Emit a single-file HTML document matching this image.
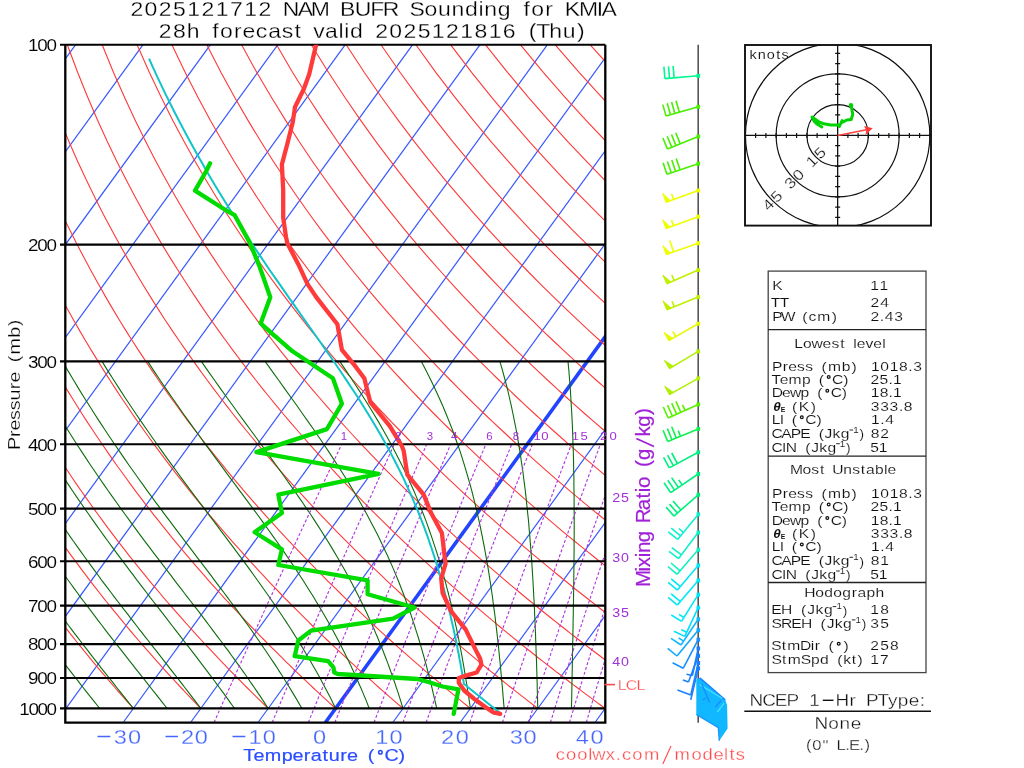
<!DOCTYPE html>
<html><head><meta charset="utf-8"><style>html,body{margin:0;padding:0;background:#fff;overflow:hidden;}svg{display:block;will-change:transform;}text{font-family:"Liberation Sans",sans-serif;}</style></head>
<body><svg width="1024" height="768" viewBox="0 0 1024 768" font-family="Liberation Sans, sans-serif"><defs><clipPath id="pc"><rect x="65.3" y="44.8" width="540.0" height="677.8000000000001"/></clipPath></defs>
<g clip-path="url(#pc)"><line x1="-685.6" y1="722.5" x2="-194.1" y2="44.8" stroke="#3355ff" stroke-width="1.2"/><line x1="-618.2" y1="722.5" x2="-126.7" y2="44.8" stroke="#3355ff" stroke-width="1.2"/><line x1="-550.8" y1="722.5" x2="-59.3" y2="44.8" stroke="#3355ff" stroke-width="1.2"/><line x1="-483.4" y1="722.5" x2="8.1" y2="44.8" stroke="#3355ff" stroke-width="1.2"/><line x1="-416.0" y1="722.5" x2="75.5" y2="44.8" stroke="#3355ff" stroke-width="1.2"/><line x1="-348.6" y1="722.5" x2="142.9" y2="44.8" stroke="#3355ff" stroke-width="1.2"/><line x1="-281.2" y1="722.5" x2="210.3" y2="44.8" stroke="#3355ff" stroke-width="1.2"/><line x1="-213.8" y1="722.5" x2="277.7" y2="44.8" stroke="#3355ff" stroke-width="1.2"/><line x1="-146.4" y1="722.5" x2="345.1" y2="44.8" stroke="#3355ff" stroke-width="1.2"/><line x1="-79.0" y1="722.5" x2="412.5" y2="44.8" stroke="#3355ff" stroke-width="1.2"/><line x1="-11.6" y1="722.5" x2="479.9" y2="44.8" stroke="#3355ff" stroke-width="1.2"/><line x1="55.8" y1="722.5" x2="547.3" y2="44.8" stroke="#3355ff" stroke-width="1.2"/><line x1="123.2" y1="722.5" x2="614.7" y2="44.8" stroke="#3355ff" stroke-width="1.2"/><line x1="190.6" y1="722.5" x2="682.1" y2="44.8" stroke="#3355ff" stroke-width="1.2"/><line x1="258.0" y1="722.5" x2="749.5" y2="44.8" stroke="#3355ff" stroke-width="1.2"/><line x1="325.4" y1="722.5" x2="816.9" y2="44.8" stroke="#2244ff" stroke-width="3.6"/><line x1="392.8" y1="722.5" x2="884.3" y2="44.8" stroke="#3355ff" stroke-width="1.2"/><line x1="460.2" y1="722.5" x2="951.7" y2="44.8" stroke="#3355ff" stroke-width="1.2"/><line x1="527.6" y1="722.5" x2="1019.1" y2="44.8" stroke="#3355ff" stroke-width="1.2"/><line x1="595.0" y1="722.5" x2="1086.5" y2="44.8" stroke="#3355ff" stroke-width="1.2"/><line x1="662.4" y1="722.5" x2="1153.9" y2="44.8" stroke="#3355ff" stroke-width="1.2"/><polyline points="-68.8,708.4 -70.8,705.5 -72.9,702.6 -74.9,699.6 -77.0,696.6 -79.0,693.6 -81.1,690.6 -83.2,687.5 -85.3,684.4 -87.4,681.2 -89.5,678.0 -91.6,674.8 -93.7,671.6 -95.9,668.3 -98.0,664.9 -100.2,661.6 -102.3,658.2 -104.5,654.7 -106.7,651.2 -108.9,647.7 -111.1,644.1 -113.3,640.5 -115.5,636.8 -117.8,633.1 -120.0,629.3 -122.3,625.5 -124.6,621.6 -126.8,617.7 -129.1,613.7 -131.4,609.7 -133.8,605.6 -136.1,601.5 -138.4,597.3 -140.8,593.0 -143.1,588.7 -145.5,584.3 -147.9,579.8 -150.3,575.2 -152.7,570.6 -155.1,565.9 -157.6,561.2 -160.0,556.3 -162.5,551.4 -164.9,546.4 -167.4,541.3 -169.9,536.1 -172.4,530.8 -174.9,525.4 -177.5,519.9 -180.0,514.3 -182.6,508.6 -185.2,502.8 -187.7,496.9 -190.3,490.8 -193.0,484.6 -195.6,478.3 -198.2,471.8 -200.9,465.2 -203.5,458.4 -206.2,451.4 -208.9,444.3 -211.6,437.0 -214.3,429.5 -217.0,421.9 -219.7,414.0 -222.4,405.8 -225.2,397.5 -227.9,388.9 -230.6,380.0 -233.4,370.9 -236.1,361.4 -238.9,351.6 -241.6,341.5 -244.4,331.1 -247.1,320.2 -249.8,308.9 -252.5,297.1 -255.2,284.8 -257.8,272.0 -260.4,258.6 -262.9,244.6 -265.4,229.8 -267.9,214.2 -270.2,197.7 -272.4,180.3 -274.5,161.7 -276.4,141.8 -278.1,120.4 -279.5,97.3 -280.6,72.3 -281.2,44.8" fill="none" stroke="#ff3838" stroke-width="1.1"/><polyline points="-1.4,708.4 -3.6,705.5 -5.9,702.6 -8.1,699.6 -10.4,696.6 -12.6,693.6 -14.9,690.6 -17.2,687.5 -19.5,684.4 -21.8,681.2 -24.1,678.0 -26.4,674.8 -28.8,671.6 -31.1,668.3 -33.5,664.9 -35.8,661.6 -38.2,658.2 -40.6,654.7 -43.0,651.2 -45.4,647.7 -47.9,644.1 -50.3,640.5 -52.8,636.8 -55.2,633.1 -57.7,629.3 -60.2,625.5 -62.7,621.6 -65.3,617.7 -67.8,613.7 -70.3,609.7 -72.9,605.6 -75.5,601.5 -78.1,597.3 -80.7,593.0 -83.3,588.7 -85.9,584.3 -88.6,579.8 -91.2,575.2 -93.9,570.6 -96.6,565.9 -99.3,561.2 -102.1,556.3 -104.8,551.4 -107.6,546.4 -110.3,541.3 -113.1,536.1 -115.9,530.8 -118.7,525.4 -121.6,519.9 -124.4,514.3 -127.3,508.6 -130.2,502.8 -133.1,496.9 -136.0,490.8 -139.0,484.6 -142.0,478.3 -144.9,471.8 -147.9,465.2 -150.9,458.4 -154.0,451.4 -157.0,444.3 -160.1,437.0 -163.2,429.5 -166.3,421.9 -169.4,414.0 -172.5,405.8 -175.7,397.5 -178.8,388.9 -182.0,380.0 -185.2,370.9 -188.4,361.4 -191.6,351.6 -194.8,341.5 -198.0,331.1 -201.3,320.2 -204.5,308.9 -207.7,297.1 -210.9,284.8 -214.1,272.0 -217.3,258.6 -220.4,244.6 -223.5,229.8 -226.6,214.2 -229.6,197.7 -232.5,180.3 -235.3,161.7 -238.0,141.8 -240.5,120.4 -242.8,97.3 -244.7,72.3 -246.3,44.8" fill="none" stroke="#ff3838" stroke-width="1.1"/><polyline points="66.0,708.4 63.6,705.5 61.2,702.6 58.7,699.6 56.3,696.6 53.8,693.6 51.3,690.6 48.8,687.5 46.3,684.4 43.8,681.2 41.3,678.0 38.8,674.8 36.2,671.6 33.7,668.3 31.1,664.9 28.5,661.6 25.9,658.2 23.3,654.7 20.7,651.2 18.0,647.7 15.4,644.1 12.7,640.5 10.0,636.8 7.3,633.1 4.6,629.3 1.8,625.5 -0.9,621.6 -3.7,617.7 -6.4,613.7 -9.2,609.7 -12.0,605.6 -14.9,601.5 -17.7,597.3 -20.6,593.0 -23.5,588.7 -26.4,584.3 -29.3,579.8 -32.2,575.2 -35.1,570.6 -38.1,565.9 -41.1,561.2 -44.1,556.3 -47.1,551.4 -50.2,546.4 -53.2,541.3 -56.3,536.1 -59.4,530.8 -62.6,525.4 -65.7,519.9 -68.9,514.3 -72.1,508.6 -75.3,502.8 -78.5,496.9 -81.8,490.8 -85.0,484.6 -88.3,478.3 -91.7,471.8 -95.0,465.2 -98.4,458.4 -101.8,451.4 -105.2,444.3 -108.6,437.0 -112.1,429.5 -115.6,421.9 -119.1,414.0 -122.6,405.8 -126.2,397.5 -129.8,388.9 -133.4,380.0 -137.0,370.9 -140.6,361.4 -144.3,351.6 -148.0,341.5 -151.7,331.1 -155.4,320.2 -159.2,308.9 -162.9,297.1 -166.7,284.8 -170.4,272.0 -174.2,258.6 -177.9,244.6 -181.7,229.8 -185.4,214.2 -189.0,197.7 -192.6,180.3 -196.2,161.7 -199.6,141.8 -202.9,120.4 -206.0,97.3 -208.9,72.3 -211.5,44.8" fill="none" stroke="#ff3838" stroke-width="1.1"/><polyline points="133.4,708.4 130.8,705.5 128.2,702.6 125.5,699.6 122.9,696.6 120.2,693.6 117.5,690.6 114.9,687.5 112.2,684.4 109.4,681.2 106.7,678.0 104.0,674.8 101.2,671.6 98.4,668.3 95.6,664.9 92.8,661.6 90.0,658.2 87.2,654.7 84.3,651.2 81.5,647.7 78.6,644.1 75.7,640.5 72.8,636.8 69.8,633.1 66.9,629.3 63.9,625.5 60.9,621.6 57.9,617.7 54.9,613.7 51.9,609.7 48.8,605.6 45.7,601.5 42.6,597.3 39.5,593.0 36.4,588.7 33.2,584.3 30.0,579.8 26.8,575.2 23.6,570.6 20.4,565.9 17.1,561.2 13.8,556.3 10.5,551.4 7.2,546.4 3.8,541.3 0.5,536.1 -2.9,530.8 -6.4,525.4 -9.8,519.9 -13.3,514.3 -16.8,508.6 -20.3,502.8 -23.9,496.9 -27.5,490.8 -31.1,484.6 -34.7,478.3 -38.4,471.8 -42.1,465.2 -45.8,458.4 -49.6,451.4 -53.3,444.3 -57.2,437.0 -61.0,429.5 -64.9,421.9 -68.8,414.0 -72.7,405.8 -76.7,397.5 -80.7,388.9 -84.7,380.0 -88.8,370.9 -92.9,361.4 -97.0,351.6 -101.2,341.5 -105.4,331.1 -109.6,320.2 -113.9,308.9 -118.1,297.1 -122.4,284.8 -126.7,272.0 -131.1,258.6 -135.4,244.6 -139.8,229.8 -144.1,214.2 -148.5,197.7 -152.8,180.3 -157.0,161.7 -161.2,141.8 -165.3,120.4 -169.3,97.3 -173.1,72.3 -176.6,44.8" fill="none" stroke="#ff3838" stroke-width="1.1"/><polyline points="200.8,708.4 198.0,705.5 195.2,702.6 192.3,699.6 189.5,696.6 186.6,693.6 183.8,690.6 180.9,687.5 178.0,684.4 175.0,681.2 172.1,678.0 169.1,674.8 166.2,671.6 163.2,668.3 160.2,664.9 157.2,661.6 154.1,658.2 151.1,654.7 148.0,651.2 144.9,647.7 141.8,644.1 138.7,640.5 135.5,636.8 132.4,633.1 129.2,629.3 126.0,625.5 122.8,621.6 119.5,617.7 116.3,613.7 113.0,609.7 109.7,605.6 106.3,601.5 103.0,597.3 99.6,593.0 96.2,588.7 92.8,584.3 89.4,579.8 85.9,575.2 82.4,570.6 78.9,565.9 75.4,561.2 71.8,556.3 68.2,551.4 64.6,546.4 60.9,541.3 57.3,536.1 53.6,530.8 49.8,525.4 46.1,519.9 42.3,514.3 38.5,508.6 34.6,502.8 30.7,496.9 26.8,490.8 22.9,484.6 18.9,478.3 14.9,471.8 10.9,465.2 6.8,458.4 2.7,451.4 -1.5,444.3 -5.7,437.0 -9.9,429.5 -14.2,421.9 -18.5,414.0 -22.8,405.8 -27.2,397.5 -31.6,388.9 -36.1,380.0 -40.6,370.9 -45.2,361.4 -49.8,351.6 -54.4,341.5 -59.1,331.1 -63.8,320.2 -68.5,308.9 -73.3,297.1 -78.2,284.8 -83.1,272.0 -88.0,258.6 -92.9,244.6 -97.9,229.8 -102.9,214.2 -107.9,197.7 -112.9,180.3 -117.9,161.7 -122.9,141.8 -127.8,120.4 -132.6,97.3 -137.3,72.3 -141.8,44.8" fill="none" stroke="#ff3838" stroke-width="1.1"/><polyline points="268.2,708.4 265.2,705.5 262.2,702.6 259.2,699.6 256.1,696.6 253.1,693.6 250.0,690.6 246.9,687.5 243.8,684.4 240.6,681.2 237.5,678.0 234.3,674.8 231.2,671.6 228.0,668.3 224.7,664.9 221.5,661.6 218.2,658.2 215.0,654.7 211.7,651.2 208.4,647.7 205.0,644.1 201.7,640.5 198.3,636.8 194.9,633.1 191.5,629.3 188.1,625.5 184.6,621.6 181.1,617.7 177.6,613.7 174.1,609.7 170.5,605.6 166.9,601.5 163.3,597.3 159.7,593.0 156.1,588.7 152.4,584.3 148.7,579.8 144.9,575.2 141.2,570.6 137.4,565.9 133.6,561.2 129.7,556.3 125.9,551.4 122.0,546.4 118.0,541.3 114.1,536.1 110.1,530.8 106.0,525.4 102.0,519.9 97.9,514.3 93.7,508.6 89.6,502.8 85.4,496.9 81.1,490.8 76.8,484.6 72.5,478.3 68.2,471.8 63.8,465.2 59.3,458.4 54.9,451.4 50.3,444.3 45.8,437.0 41.2,429.5 36.5,421.9 31.8,414.0 27.1,405.8 22.3,397.5 17.4,388.9 12.5,380.0 7.6,370.9 2.6,361.4 -2.5,351.6 -7.6,341.5 -12.7,331.1 -18.0,320.2 -23.2,308.9 -28.6,297.1 -33.9,284.8 -39.4,272.0 -44.9,258.6 -50.4,244.6 -56.0,229.8 -61.6,214.2 -67.3,197.7 -73.0,180.3 -78.7,161.7 -84.5,141.8 -90.2,120.4 -95.9,97.3 -101.5,72.3 -106.9,44.8" fill="none" stroke="#ff3838" stroke-width="1.1"/><polyline points="335.6,708.4 332.4,705.5 329.2,702.6 326.0,699.6 322.7,696.6 319.5,693.6 316.2,690.6 312.9,687.5 309.6,684.4 306.2,681.2 302.9,678.0 299.5,674.8 296.1,671.6 292.7,668.3 289.3,664.9 285.8,661.6 282.4,658.2 278.9,654.7 275.4,651.2 271.8,647.7 268.3,644.1 264.7,640.5 261.1,636.8 257.5,633.1 253.8,629.3 250.1,625.5 246.4,621.6 242.7,617.7 239.0,613.7 235.2,609.7 231.4,605.6 227.5,601.5 223.7,597.3 219.8,593.0 215.9,588.7 212.0,584.3 208.0,579.8 204.0,575.2 200.0,570.6 195.9,565.9 191.8,561.2 187.7,556.3 183.5,551.4 179.3,546.4 175.1,541.3 170.8,536.1 166.6,530.8 162.2,525.4 157.9,519.9 153.4,514.3 149.0,508.6 144.5,502.8 140.0,496.9 135.4,490.8 130.8,484.6 126.2,478.3 121.5,471.8 116.7,465.2 111.9,458.4 107.1,451.4 102.2,444.3 97.3,437.0 92.3,429.5 87.2,421.9 82.1,414.0 77.0,405.8 71.8,397.5 66.5,388.9 61.2,380.0 55.8,370.9 50.3,361.4 44.8,351.6 39.2,341.5 33.6,331.1 27.9,320.2 22.1,308.9 16.2,297.1 10.3,284.8 4.3,272.0 -1.8,258.6 -7.9,244.6 -14.1,229.8 -20.4,214.2 -26.7,197.7 -33.1,180.3 -39.6,161.7 -46.1,141.8 -52.6,120.4 -59.1,97.3 -65.6,72.3 -72.1,44.8" fill="none" stroke="#ff3838" stroke-width="1.1"/><polyline points="403.0,708.4 399.6,705.5 396.2,702.6 392.8,699.6 389.3,696.6 385.9,693.6 382.4,690.6 378.9,687.5 375.4,684.4 371.9,681.2 368.3,678.0 364.7,674.8 361.1,671.6 357.5,668.3 353.8,664.9 350.2,661.6 346.5,658.2 342.8,654.7 339.0,651.2 335.3,647.7 331.5,644.1 327.7,640.5 323.8,636.8 320.0,633.1 316.1,629.3 312.2,625.5 308.3,621.6 304.3,617.7 300.3,613.7 296.3,609.7 292.2,605.6 288.2,601.5 284.0,597.3 279.9,593.0 275.7,588.7 271.5,584.3 267.3,579.8 263.0,575.2 258.7,570.6 254.4,565.9 250.0,561.2 245.6,556.3 241.2,551.4 236.7,546.4 232.2,541.3 227.6,536.1 223.1,530.8 218.4,525.4 213.7,519.9 209.0,514.3 204.3,508.6 199.5,502.8 194.6,496.9 189.7,490.8 184.8,484.6 179.8,478.3 174.7,471.8 169.6,465.2 164.5,458.4 159.3,451.4 154.0,444.3 148.7,437.0 143.3,429.5 137.9,421.9 132.4,414.0 126.9,405.8 121.2,397.5 115.6,388.9 109.8,380.0 104.0,370.9 98.1,361.4 92.1,351.6 86.0,341.5 79.9,331.1 73.7,320.2 67.4,308.9 61.0,297.1 54.6,284.8 48.0,272.0 41.4,258.6 34.6,244.6 27.8,229.8 20.9,214.2 13.8,197.7 6.7,180.3 -0.4,161.7 -7.7,141.8 -15.0,120.4 -22.4,97.3 -29.8,72.3 -37.2,44.8" fill="none" stroke="#ff3838" stroke-width="1.1"/><polyline points="470.4,708.4 466.8,705.5 463.2,702.6 459.6,699.6 456.0,696.6 452.3,693.6 448.6,690.6 444.9,687.5 441.2,684.4 437.5,681.2 433.7,678.0 429.9,674.8 426.1,671.6 422.3,668.3 418.4,664.9 414.5,661.6 410.6,658.2 406.7,654.7 402.7,651.2 398.7,647.7 394.7,644.1 390.7,640.5 386.6,636.8 382.5,633.1 378.4,629.3 374.3,625.5 370.1,621.6 365.9,617.7 361.6,613.7 357.4,609.7 353.1,605.6 348.8,601.5 344.4,597.3 340.0,593.0 335.6,588.7 331.1,584.3 326.6,579.8 322.1,575.2 317.5,570.6 312.9,565.9 308.3,561.2 303.6,556.3 298.9,551.4 294.1,546.4 289.3,541.3 284.4,536.1 279.5,530.8 274.6,525.4 269.6,519.9 264.6,514.3 259.5,508.6 254.4,502.8 249.2,496.9 244.0,490.8 238.7,484.6 233.4,478.3 228.0,471.8 222.6,465.2 217.1,458.4 211.5,451.4 205.9,444.3 200.2,437.0 194.4,429.5 188.6,421.9 182.7,414.0 176.8,405.8 170.7,397.5 164.6,388.9 158.4,380.0 152.2,370.9 145.8,361.4 139.4,351.6 132.8,341.5 126.2,331.1 119.5,320.2 112.7,308.9 105.8,297.1 98.8,284.8 91.7,272.0 84.5,258.6 77.1,244.6 69.7,229.8 62.1,214.2 54.4,197.7 46.6,180.3 38.7,161.7 30.7,141.8 22.5,120.4 14.3,97.3 6.0,72.3 -2.4,44.8" fill="none" stroke="#ff3838" stroke-width="1.1"/><polyline points="537.8,708.4 534.0,705.5 530.2,702.6 526.4,699.6 522.6,696.6 518.7,693.6 514.8,690.6 510.9,687.5 507.0,684.4 503.1,681.2 499.1,678.0 495.1,674.8 491.1,671.6 487.0,668.3 482.9,664.9 478.8,661.6 474.7,658.2 470.6,654.7 466.4,651.2 462.2,647.7 457.9,644.1 453.7,640.5 449.4,636.8 445.1,633.1 440.7,629.3 436.3,625.5 431.9,621.6 427.5,617.7 423.0,613.7 418.5,609.7 413.9,605.6 409.4,601.5 404.7,597.3 400.1,593.0 395.4,588.7 390.7,584.3 385.9,579.8 381.1,575.2 376.3,570.6 371.4,565.9 366.5,561.2 361.5,556.3 356.5,551.4 351.5,546.4 346.4,541.3 341.2,536.1 336.0,530.8 330.8,525.4 325.5,519.9 320.2,514.3 314.8,508.6 309.3,502.8 303.9,496.9 298.3,490.8 292.7,484.6 287.0,478.3 281.3,471.8 275.5,465.2 269.6,458.4 263.7,451.4 257.7,444.3 251.7,437.0 245.5,429.5 239.3,421.9 233.0,414.0 226.7,405.8 220.2,397.5 213.7,388.9 207.1,380.0 200.4,370.9 193.6,361.4 186.7,351.6 179.7,341.5 172.6,331.1 165.3,320.2 158.0,308.9 150.6,297.1 143.0,284.8 135.4,272.0 127.6,258.6 119.6,244.6 111.6,229.8 103.3,214.2 95.0,197.7 86.5,180.3 77.8,161.7 69.0,141.8 60.1,120.4 51.0,97.3 41.8,72.3 32.5,44.8" fill="none" stroke="#ff3838" stroke-width="1.1"/><polyline points="605.2,708.4 601.2,705.5 597.2,702.6 593.2,699.6 589.2,696.6 585.1,693.6 581.1,690.6 577.0,687.5 572.8,684.4 568.7,681.2 564.5,678.0 560.3,674.8 556.0,671.6 551.8,668.3 547.5,664.9 543.2,661.6 538.8,658.2 534.5,654.7 530.1,651.2 525.6,647.7 521.2,644.1 516.7,640.5 512.2,636.8 507.6,633.1 503.0,629.3 498.4,625.5 493.7,621.6 489.1,617.7 484.3,613.7 479.6,609.7 474.8,605.6 470.0,601.5 465.1,597.3 460.2,593.0 455.2,588.7 450.3,584.3 445.2,579.8 440.2,575.2 435.1,570.6 429.9,565.9 424.7,561.2 419.5,556.3 414.2,551.4 408.8,546.4 403.5,541.3 398.0,536.1 392.5,530.8 387.0,525.4 381.4,519.9 375.8,514.3 370.1,508.6 364.3,502.8 358.5,496.9 352.6,490.8 346.6,484.6 340.6,478.3 334.6,471.8 328.4,465.2 322.2,458.4 315.9,451.4 309.6,444.3 303.1,437.0 296.6,429.5 290.0,421.9 283.3,414.0 276.6,405.8 269.7,397.5 262.7,388.9 255.7,380.0 248.5,370.9 241.3,361.4 233.9,351.6 226.5,341.5 218.9,331.1 211.2,320.2 203.3,308.9 195.4,297.1 187.3,284.8 179.1,272.0 170.7,258.6 162.1,244.6 153.4,229.8 144.6,214.2 135.6,197.7 126.4,180.3 117.0,161.7 107.4,141.8 97.7,120.4 87.7,97.3 77.6,72.3 67.3,44.8" fill="none" stroke="#ff3838" stroke-width="1.1"/><polyline points="672.6,708.4 668.4,705.5 664.3,702.6 660.0,699.6 655.8,696.6 651.6,693.6 647.3,690.6 643.0,687.5 638.6,684.4 634.3,681.2 629.9,678.0 625.5,674.8 621.0,671.6 616.5,668.3 612.0,664.9 607.5,661.6 603.0,658.2 598.4,654.7 593.7,651.2 589.1,647.7 584.4,644.1 579.7,640.5 574.9,636.8 570.1,633.1 565.3,629.3 560.5,625.5 555.6,621.6 550.7,617.7 545.7,613.7 540.7,609.7 535.6,605.6 530.6,601.5 525.4,597.3 520.3,593.0 515.1,588.7 509.8,584.3 504.6,579.8 499.2,575.2 493.8,570.6 488.4,565.9 482.9,561.2 477.4,556.3 471.8,551.4 466.2,546.4 460.5,541.3 454.8,536.1 449.0,530.8 443.2,525.4 437.3,519.9 431.3,514.3 425.3,508.6 419.2,502.8 413.1,496.9 406.9,490.8 400.6,484.6 394.3,478.3 387.8,471.8 381.3,465.2 374.8,458.4 368.1,451.4 361.4,444.3 354.6,437.0 347.7,429.5 340.7,421.9 333.6,414.0 326.5,405.8 319.2,397.5 311.8,388.9 304.3,380.0 296.7,370.9 289.0,361.4 281.2,351.6 273.3,341.5 265.2,331.1 257.0,320.2 248.7,308.9 240.2,297.1 231.5,284.8 222.7,272.0 213.8,258.6 204.6,244.6 195.3,229.8 185.8,214.2 176.1,197.7 166.2,180.3 156.1,161.7 145.8,141.8 135.3,120.4 124.5,97.3 113.4,72.3 102.2,44.8" fill="none" stroke="#ff3838" stroke-width="1.1"/><polyline points="740.0,708.4 735.6,705.5 731.3,702.6 726.9,699.6 722.4,696.6 718.0,693.6 713.5,690.6 709.0,687.5 704.4,684.4 699.9,681.2 695.3,678.0 690.6,674.8 686.0,671.6 681.3,668.3 676.6,664.9 671.8,661.6 667.1,658.2 662.3,654.7 657.4,651.2 652.5,647.7 647.6,644.1 642.7,640.5 637.7,636.8 632.7,633.1 627.6,629.3 622.5,625.5 617.4,621.6 612.2,617.7 607.0,613.7 601.8,609.7 596.5,605.6 591.2,601.5 585.8,597.3 580.4,593.0 574.9,588.7 569.4,584.3 563.9,579.8 558.3,575.2 552.6,570.6 546.9,565.9 541.2,561.2 535.4,556.3 529.5,551.4 523.6,546.4 517.6,541.3 511.6,536.1 505.5,530.8 499.4,525.4 493.2,519.9 486.9,514.3 480.6,508.6 474.2,502.8 467.7,496.9 461.2,490.8 454.6,484.6 447.9,478.3 441.1,471.8 434.3,465.2 427.4,458.4 420.3,451.4 413.2,444.3 406.1,437.0 398.8,429.5 391.4,421.9 383.9,414.0 376.4,405.8 368.7,397.5 360.9,388.9 353.0,380.0 344.9,370.9 336.8,361.4 328.5,351.6 320.1,341.5 311.5,331.1 302.8,320.2 294.0,308.9 285.0,297.1 275.8,284.8 266.4,272.0 256.9,258.6 247.2,244.6 237.2,229.8 227.1,214.2 216.7,197.7 206.1,180.3 195.3,161.7 184.2,141.8 172.8,120.4 161.2,97.3 149.3,72.3 137.1,44.8" fill="none" stroke="#ff3838" stroke-width="1.1"/><polyline points="807.4,708.4 802.8,705.5 798.3,702.6 793.7,699.6 789.0,696.6 784.4,693.6 779.7,690.6 775.0,687.5 770.2,684.4 765.5,681.2 760.7,678.0 755.8,674.8 751.0,671.6 746.1,668.3 741.1,664.9 736.2,661.6 731.2,658.2 726.2,654.7 721.1,651.2 716.0,647.7 710.9,644.1 705.7,640.5 700.5,636.8 695.2,633.1 689.9,629.3 684.6,625.5 679.2,621.6 673.8,617.7 668.4,613.7 662.9,609.7 657.4,605.6 651.8,601.5 646.2,597.3 640.5,593.0 634.8,588.7 629.0,584.3 623.2,579.8 617.3,575.2 611.4,570.6 605.4,565.9 599.4,561.2 593.3,556.3 587.2,551.4 581.0,546.4 574.7,541.3 568.4,536.1 562.0,530.8 555.6,525.4 549.1,519.9 542.5,514.3 535.8,508.6 529.1,502.8 522.3,496.9 515.5,490.8 508.5,484.6 501.5,478.3 494.4,471.8 487.2,465.2 479.9,458.4 472.6,451.4 465.1,444.3 457.5,437.0 449.9,429.5 442.1,421.9 434.2,414.0 426.3,405.8 418.2,397.5 409.9,388.9 401.6,380.0 393.1,370.9 384.5,361.4 375.8,351.6 366.9,341.5 357.9,331.1 348.7,320.2 339.3,308.9 329.7,297.1 320.0,284.8 310.1,272.0 300.0,258.6 289.7,244.6 279.1,229.8 268.3,214.2 257.3,197.7 246.0,180.3 234.4,161.7 222.6,141.8 210.4,120.4 197.9,97.3 185.1,72.3 171.9,44.8" fill="none" stroke="#ff3838" stroke-width="1.1"/><polyline points="874.8,708.4 870.1,705.5 865.3,702.6 860.5,699.6 855.7,696.6 850.8,693.6 845.9,690.6 841.0,687.5 836.1,684.4 831.1,681.2 826.1,678.0 821.0,674.8 815.9,671.6 810.8,668.3 805.7,664.9 800.5,661.6 795.3,658.2 790.1,654.7 784.8,651.2 779.4,647.7 774.1,644.1 768.7,640.5 763.2,636.8 757.8,633.1 752.2,629.3 746.7,625.5 741.1,621.6 735.4,617.7 729.7,613.7 724.0,609.7 718.2,605.6 712.4,601.5 706.5,597.3 700.6,593.0 694.6,588.7 688.6,584.3 682.5,579.8 676.4,575.2 670.2,570.6 663.9,565.9 657.6,561.2 651.3,556.3 644.8,551.4 638.4,546.4 631.8,541.3 625.2,536.1 618.5,530.8 611.8,525.4 605.0,519.9 598.1,514.3 591.1,508.6 584.1,502.8 577.0,496.9 569.8,490.8 562.5,484.6 555.1,478.3 547.7,471.8 540.1,465.2 532.5,458.4 524.8,451.4 516.9,444.3 509.0,437.0 501.0,429.5 492.8,421.9 484.5,414.0 476.1,405.8 467.6,397.5 459.0,388.9 450.2,380.0 441.3,370.9 432.3,361.4 423.1,351.6 413.7,341.5 404.2,331.1 394.5,320.2 384.6,308.9 374.5,297.1 364.3,284.8 353.8,272.0 343.1,258.6 332.2,244.6 321.0,229.8 309.6,214.2 297.9,197.7 285.9,180.3 273.6,161.7 261.0,141.8 248.0,120.4 234.6,97.3 220.9,72.3 206.8,44.8" fill="none" stroke="#ff3838" stroke-width="1.1"/><polyline points="942.2,708.4 937.3,705.5 932.3,702.6 927.3,699.6 922.3,696.6 917.2,693.6 912.1,690.6 907.0,687.5 901.9,684.4 896.7,681.2 891.5,678.0 886.2,674.8 880.9,671.6 875.6,668.3 870.2,664.9 864.9,661.6 859.4,658.2 854.0,654.7 848.4,651.2 842.9,647.7 837.3,644.1 831.7,640.5 826.0,636.8 820.3,633.1 814.5,629.3 808.7,625.5 802.9,621.6 797.0,617.7 791.1,613.7 785.1,609.7 779.1,605.6 773.0,601.5 766.9,597.3 760.7,593.0 754.4,588.7 748.1,584.3 741.8,579.8 735.4,575.2 728.9,570.6 722.4,565.9 715.8,561.2 709.2,556.3 702.5,551.4 695.7,546.4 688.9,541.3 682.0,536.1 675.0,530.8 668.0,525.4 660.9,519.9 653.7,514.3 646.4,508.6 639.0,502.8 631.6,496.9 624.1,490.8 616.4,484.6 608.7,478.3 601.0,471.8 593.1,465.2 585.1,458.4 577.0,451.4 568.8,444.3 560.5,437.0 552.0,429.5 543.5,421.9 534.8,414.0 526.0,405.8 517.1,397.5 508.1,388.9 498.9,380.0 489.5,370.9 480.0,361.4 470.3,351.6 460.5,341.5 450.5,331.1 440.3,320.2 429.9,308.9 419.3,297.1 408.5,284.8 397.5,272.0 386.2,258.6 374.7,244.6 362.9,229.8 350.8,214.2 338.4,197.7 325.8,180.3 312.7,161.7 299.3,141.8 285.6,120.4 271.4,97.3 256.7,72.3 241.6,44.8" fill="none" stroke="#ff3838" stroke-width="1.1"/><polyline points="1009.6,708.4 1004.5,705.5 999.3,702.6 994.1,699.6 988.9,696.6 983.6,693.6 978.4,690.6 973.0,687.5 967.7,684.4 962.3,681.2 956.9,678.0 951.4,674.8 945.9,671.6 940.4,668.3 934.8,664.9 929.2,661.6 923.5,658.2 917.8,654.7 912.1,651.2 906.3,647.7 900.5,644.1 894.7,640.5 888.8,636.8 882.8,633.1 876.9,629.3 870.8,625.5 864.7,621.6 858.6,617.7 852.4,613.7 846.2,609.7 839.9,605.6 833.6,601.5 827.2,597.3 820.8,593.0 814.3,588.7 807.7,584.3 801.1,579.8 794.4,575.2 787.7,570.6 780.9,565.9 774.1,561.2 767.2,556.3 760.2,551.4 753.1,546.4 746.0,541.3 738.8,536.1 731.5,530.8 724.2,525.4 716.7,519.9 709.2,514.3 701.6,508.6 694.0,502.8 686.2,496.9 678.4,490.8 670.4,484.6 662.4,478.3 654.2,471.8 646.0,465.2 637.6,458.4 629.2,451.4 620.6,444.3 611.9,437.0 603.1,429.5 594.2,421.9 585.1,414.0 575.9,405.8 566.6,397.5 557.1,388.9 547.5,380.0 537.7,370.9 527.8,361.4 517.6,351.6 507.3,341.5 496.8,331.1 486.1,320.2 475.2,308.9 464.1,297.1 452.8,284.8 441.2,272.0 429.3,258.6 417.2,244.6 404.8,229.8 392.1,214.2 379.0,197.7 365.6,180.3 351.9,161.7 337.7,141.8 323.1,120.4 308.1,97.3 292.5,72.3 276.5,44.8" fill="none" stroke="#ff3838" stroke-width="1.1"/><polyline points="1077.0,708.4 1071.7,705.5 1066.3,702.6 1060.9,699.6 1055.5,696.6 1050.1,693.6 1044.6,690.6 1039.0,687.5 1033.5,684.4 1027.9,681.2 1022.3,678.0 1016.6,674.8 1010.9,671.6 1005.1,668.3 999.3,664.9 993.5,661.6 987.7,658.2 981.7,654.7 975.8,651.2 969.8,647.7 963.8,644.1 957.7,640.5 951.6,636.8 945.4,633.1 939.2,629.3 932.9,625.5 926.6,621.6 920.2,617.7 913.8,613.7 907.3,609.7 900.8,605.6 894.2,601.5 887.6,597.3 880.9,593.0 874.1,588.7 867.3,584.3 860.4,579.8 853.5,575.2 846.5,570.6 839.4,565.9 832.3,561.2 825.1,556.3 817.8,551.4 810.5,546.4 803.1,541.3 795.6,536.1 788.0,530.8 780.4,525.4 772.6,519.9 764.8,514.3 756.9,508.6 748.9,502.8 740.8,496.9 732.6,490.8 724.4,484.6 716.0,478.3 707.5,471.8 698.9,465.2 690.2,458.4 681.4,451.4 672.5,444.3 663.4,437.0 654.2,429.5 644.9,421.9 635.4,414.0 625.8,405.8 616.1,397.5 606.2,388.9 596.1,380.0 585.9,370.9 575.5,361.4 564.9,351.6 554.1,341.5 543.1,331.1 532.0,320.2 520.5,308.9 508.9,297.1 497.0,284.8 484.8,272.0 472.4,258.6 459.7,244.6 446.7,229.8 433.3,214.2 419.6,197.7 405.5,180.3 391.0,161.7 376.1,141.8 360.7,120.4 344.8,97.3 328.4,72.3 311.3,44.8" fill="none" stroke="#ff3838" stroke-width="1.1"/><polyline points="1144.4,708.4 1138.9,705.5 1133.3,702.6 1127.7,699.6 1122.1,696.6 1116.5,693.6 1110.8,690.6 1105.1,687.5 1099.3,684.4 1093.5,681.2 1087.7,678.0 1081.8,674.8 1075.9,671.6 1069.9,668.3 1063.9,664.9 1057.9,661.6 1051.8,658.2 1045.6,654.7 1039.5,651.2 1033.3,647.7 1027.0,644.1 1020.7,640.5 1014.3,636.8 1007.9,633.1 1001.5,629.3 995.0,625.5 988.4,621.6 981.8,617.7 975.1,613.7 968.4,609.7 961.6,605.6 954.8,601.5 947.9,597.3 941.0,593.0 934.0,588.7 926.9,584.3 919.7,579.8 912.5,575.2 905.3,570.6 897.9,565.9 890.5,561.2 883.0,556.3 875.5,551.4 867.9,546.4 860.2,541.3 852.4,536.1 844.5,530.8 836.6,525.4 828.5,519.9 820.4,514.3 812.2,508.6 803.9,502.8 795.5,496.9 786.9,490.8 778.3,484.6 769.6,478.3 760.8,471.8 751.8,465.2 742.8,458.4 733.6,451.4 724.3,444.3 714.9,437.0 705.3,429.5 695.6,421.9 685.7,414.0 675.7,405.8 665.6,397.5 655.3,388.9 644.8,380.0 634.1,370.9 623.2,361.4 612.2,351.6 600.9,341.5 589.5,331.1 577.8,320.2 565.9,308.9 553.7,297.1 541.2,284.8 528.5,272.0 515.5,258.6 502.2,244.6 488.6,229.8 474.6,214.2 460.2,197.7 445.4,180.3 430.2,161.7 414.5,141.8 398.3,120.4 381.5,97.3 364.2,72.3 346.2,44.8" fill="none" stroke="#ff3838" stroke-width="1.1"/><polyline points="1211.8,708.4 1206.1,705.5 1200.3,702.6 1194.6,699.6 1188.7,696.6 1182.9,693.6 1177.0,690.6 1171.1,687.5 1165.1,684.4 1159.1,681.2 1153.1,678.0 1147.0,674.8 1140.8,671.6 1134.7,668.3 1128.4,664.9 1122.2,661.6 1115.9,658.2 1109.5,654.7 1103.1,651.2 1096.7,647.7 1090.2,644.1 1083.7,640.5 1077.1,636.8 1070.5,633.1 1063.8,629.3 1057.0,625.5 1050.2,621.6 1043.4,617.7 1036.5,613.7 1029.5,609.7 1022.5,605.6 1015.4,601.5 1008.3,597.3 1001.1,593.0 993.8,588.7 986.5,584.3 979.1,579.8 971.6,575.2 964.0,570.6 956.4,565.9 948.8,561.2 941.0,556.3 933.2,551.4 925.2,546.4 917.2,541.3 909.2,536.1 901.0,530.8 892.7,525.4 884.4,519.9 876.0,514.3 867.4,508.6 858.8,502.8 850.1,496.9 841.2,490.8 832.3,484.6 823.2,478.3 814.1,471.8 804.8,465.2 795.4,458.4 785.8,451.4 776.1,444.3 766.3,437.0 756.4,429.5 746.3,421.9 736.0,414.0 725.6,405.8 715.1,397.5 704.3,388.9 693.4,380.0 682.3,370.9 671.0,361.4 659.5,351.6 647.7,341.5 635.8,331.1 623.6,320.2 611.2,308.9 598.5,297.1 585.5,284.8 572.2,272.0 558.6,258.6 544.7,244.6 530.4,229.8 515.8,214.2 500.7,197.7 485.3,180.3 469.3,161.7 452.9,141.8 435.9,120.4 418.3,97.3 400.0,72.3 381.0,44.8" fill="none" stroke="#ff3838" stroke-width="1.1"/><polyline points="1279.2,708.4 1273.3,705.5 1267.4,702.6 1261.4,699.6 1255.4,696.6 1249.3,693.6 1243.2,690.6 1237.1,687.5 1230.9,684.4 1224.7,681.2 1218.4,678.0 1212.2,674.8 1205.8,671.6 1199.4,668.3 1193.0,664.9 1186.5,661.6 1180.0,658.2 1173.4,654.7 1166.8,651.2 1160.2,647.7 1153.4,644.1 1146.7,640.5 1139.9,636.8 1133.0,633.1 1126.1,629.3 1119.1,625.5 1112.1,621.6 1105.0,617.7 1097.8,613.7 1090.6,609.7 1083.3,605.6 1076.0,601.5 1068.6,597.3 1061.2,593.0 1053.6,588.7 1046.0,584.3 1038.4,579.8 1030.6,575.2 1022.8,570.6 1014.9,565.9 1007.0,561.2 998.9,556.3 990.8,551.4 982.6,546.4 974.3,541.3 966.0,536.1 957.5,530.8 948.9,525.4 940.3,519.9 931.5,514.3 922.7,508.6 913.8,502.8 904.7,496.9 895.5,490.8 886.3,484.6 876.9,478.3 867.3,471.8 857.7,465.2 847.9,458.4 838.0,451.4 828.0,444.3 817.8,437.0 807.5,429.5 797.0,421.9 786.3,414.0 775.5,405.8 764.6,397.5 753.4,388.9 742.0,380.0 730.5,370.9 718.7,361.4 706.8,351.6 694.6,341.5 682.1,331.1 669.4,320.2 656.5,308.9 643.3,297.1 629.7,284.8 615.9,272.0 601.7,258.6 587.2,244.6 572.3,229.8 557.0,214.2 541.3,197.7 525.1,180.3 508.5,161.7 491.2,141.8 473.4,120.4 455.0,97.3 435.8,72.3 415.9,44.8" fill="none" stroke="#ff3838" stroke-width="1.1"/><polyline points="1346.6,708.4 1340.5,705.5 1334.4,702.6 1328.2,699.6 1322.0,696.6 1315.7,693.6 1309.4,690.6 1303.1,687.5 1296.7,684.4 1290.3,681.2 1283.8,678.0 1277.3,674.8 1270.8,671.6 1264.2,668.3 1257.5,664.9 1250.9,661.6 1244.1,658.2 1237.3,654.7 1230.5,651.2 1223.6,647.7 1216.7,644.1 1209.7,640.5 1202.6,636.8 1195.5,633.1 1188.4,629.3 1181.2,625.5 1173.9,621.6 1166.6,617.7 1159.2,613.7 1151.7,609.7 1144.2,605.6 1136.6,601.5 1129.0,597.3 1121.3,593.0 1113.5,588.7 1105.6,584.3 1097.7,579.8 1089.7,575.2 1081.6,570.6 1073.4,565.9 1065.2,561.2 1056.9,556.3 1048.5,551.4 1040.0,546.4 1031.4,541.3 1022.8,536.1 1014.0,530.8 1005.1,525.4 996.2,519.9 987.1,514.3 978.0,508.6 968.7,502.8 959.3,496.9 949.8,490.8 940.2,484.6 930.5,478.3 920.6,471.8 910.6,465.2 900.5,458.4 890.2,451.4 879.8,444.3 869.3,437.0 858.6,429.5 847.7,421.9 836.6,414.0 825.4,405.8 814.0,397.5 802.4,388.9 790.7,380.0 778.7,370.9 766.5,361.4 754.0,351.6 741.4,341.5 728.4,331.1 715.3,320.2 701.8,308.9 688.0,297.1 674.0,284.8 659.6,272.0 644.8,258.6 629.7,244.6 614.2,229.8 598.3,214.2 581.9,197.7 565.0,180.3 547.6,161.7 529.6,141.8 511.0,120.4 491.7,97.3 471.6,72.3 450.7,44.8" fill="none" stroke="#ff3838" stroke-width="1.1"/><polyline points="1414.0,708.4 1407.7,705.5 1401.4,702.6 1395.0,699.6 1388.6,696.6 1382.1,693.6 1375.6,690.6 1369.1,687.5 1362.5,684.4 1355.9,681.2 1349.2,678.0 1342.5,674.8 1335.8,671.6 1329.0,668.3 1322.1,664.9 1315.2,661.6 1308.2,658.2 1301.2,654.7 1294.2,651.2 1287.1,647.7 1279.9,644.1 1272.7,640.5 1265.4,636.8 1258.1,633.1 1250.7,629.3 1243.2,625.5 1235.7,621.6 1228.2,617.7 1220.5,613.7 1212.8,609.7 1205.1,605.6 1197.2,601.5 1189.3,597.3 1181.3,593.0 1173.3,588.7 1165.2,584.3 1157.0,579.8 1148.7,575.2 1140.4,570.6 1131.9,565.9 1123.4,561.2 1114.8,556.3 1106.2,551.4 1097.4,546.4 1088.5,541.3 1079.5,536.1 1070.5,530.8 1061.3,525.4 1052.1,519.9 1042.7,514.3 1033.2,508.6 1023.6,502.8 1013.9,496.9 1004.1,490.8 994.2,484.6 984.1,478.3 973.9,471.8 963.6,465.2 953.1,458.4 942.5,451.4 931.7,444.3 920.7,437.0 909.7,429.5 898.4,421.9 887.0,414.0 875.3,405.8 863.5,397.5 851.5,388.9 839.3,380.0 826.9,370.9 814.2,361.4 801.3,351.6 788.2,341.5 774.8,331.1 761.1,320.2 747.1,308.9 732.8,297.1 718.2,284.8 703.3,272.0 688.0,258.6 672.2,244.6 656.1,229.8 639.5,214.2 622.5,197.7 604.9,180.3 586.8,161.7 568.0,141.8 548.6,120.4 528.4,97.3 507.5,72.3 485.6,44.8" fill="none" stroke="#ff3838" stroke-width="1.1"/><polyline points="1481.4,708.4 1474.9,705.5 1468.4,702.6 1461.8,699.6 1455.2,696.6 1448.6,693.6 1441.9,690.6 1435.1,687.5 1428.3,684.4 1421.5,681.2 1414.6,678.0 1407.7,674.8 1400.7,671.6 1393.7,668.3 1386.7,664.9 1379.5,661.6 1372.4,658.2 1365.1,654.7 1357.9,651.2 1350.5,647.7 1343.1,644.1 1335.7,640.5 1328.2,636.8 1320.6,633.1 1313.0,629.3 1305.3,625.5 1297.6,621.6 1289.7,617.7 1281.9,613.7 1273.9,609.7 1265.9,605.6 1257.8,601.5 1249.7,597.3 1241.4,593.0 1233.1,588.7 1224.8,584.3 1216.3,579.8 1207.8,575.2 1199.2,570.6 1190.4,565.9 1181.7,561.2 1172.8,556.3 1163.8,551.4 1154.8,546.4 1145.6,541.3 1136.3,536.1 1127.0,530.8 1117.5,525.4 1108.0,519.9 1098.3,514.3 1088.5,508.6 1078.6,502.8 1068.6,496.9 1058.4,490.8 1048.1,484.6 1037.7,478.3 1027.2,471.8 1016.5,465.2 1005.6,458.4 994.7,451.4 983.5,444.3 972.2,437.0 960.7,429.5 949.1,421.9 937.3,414.0 925.2,405.8 913.0,397.5 900.6,388.9 887.9,380.0 875.1,370.9 862.0,361.4 848.6,351.6 835.0,341.5 821.1,331.1 806.9,320.2 792.4,308.9 777.6,297.1 762.5,284.8 747.0,272.0 731.1,258.6 714.7,244.6 698.0,229.8 680.8,214.2 663.0,197.7 644.8,180.3 625.9,161.7 606.4,141.8 586.1,120.4 565.1,97.3 543.3,72.3 520.5,44.8" fill="none" stroke="#ff3838" stroke-width="1.1"/><polyline points="1548.8,708.4 1542.1,705.5 1535.4,702.6 1528.6,699.6 1521.8,696.6 1515.0,693.6 1508.1,690.6 1501.1,687.5 1494.2,684.4 1487.1,681.2 1480.0,678.0 1472.9,674.8 1465.7,671.6 1458.5,668.3 1451.2,664.9 1443.9,661.6 1436.5,658.2 1429.0,654.7 1421.5,651.2 1414.0,647.7 1406.4,644.1 1398.7,640.5 1390.9,636.8 1383.2,633.1 1375.3,629.3 1367.4,625.5 1359.4,621.6 1351.3,617.7 1343.2,613.7 1335.0,609.7 1326.8,605.6 1318.4,601.5 1310.0,597.3 1301.5,593.0 1293.0,588.7 1284.3,584.3 1275.6,579.8 1266.8,575.2 1257.9,570.6 1249.0,565.9 1239.9,561.2 1230.7,556.3 1221.5,551.4 1212.1,546.4 1202.7,541.3 1193.1,536.1 1183.5,530.8 1173.7,525.4 1163.8,519.9 1153.9,514.3 1143.8,508.6 1133.5,502.8 1123.2,496.9 1112.7,490.8 1102.1,484.6 1091.3,478.3 1080.5,471.8 1069.4,465.2 1058.2,458.4 1046.9,451.4 1035.4,444.3 1023.7,437.0 1011.8,429.5 999.8,421.9 987.6,414.0 975.1,405.8 962.5,397.5 949.6,388.9 936.6,380.0 923.3,370.9 909.7,361.4 895.9,351.6 881.8,341.5 867.4,331.1 852.7,320.2 837.7,308.9 822.4,297.1 806.7,284.8 790.6,272.0 774.2,258.6 757.3,244.6 739.9,229.8 722.0,214.2 703.6,197.7 684.6,180.3 665.0,161.7 644.8,141.8 623.7,120.4 601.9,97.3 579.1,72.3 555.3,44.8" fill="none" stroke="#ff3838" stroke-width="1.1"/><polyline points="1616.2,708.4 1609.3,705.5 1602.4,702.6 1595.4,699.6 1588.4,696.6 1581.4,693.6 1574.3,690.6 1567.2,687.5 1560.0,684.4 1552.7,681.2 1545.4,678.0 1538.1,674.8 1530.7,671.6 1523.3,668.3 1515.8,664.9 1508.2,661.6 1500.6,658.2 1492.9,654.7 1485.2,651.2 1477.4,647.7 1469.6,644.1 1461.7,640.5 1453.7,636.8 1445.7,633.1 1437.6,629.3 1429.4,625.5 1421.2,621.6 1412.9,617.7 1404.6,613.7 1396.1,609.7 1387.6,605.6 1379.0,601.5 1370.4,597.3 1361.6,593.0 1352.8,588.7 1343.9,584.3 1334.9,579.8 1325.9,575.2 1316.7,570.6 1307.5,565.9 1298.1,561.2 1288.7,556.3 1279.1,551.4 1269.5,546.4 1259.8,541.3 1249.9,536.1 1240.0,530.8 1229.9,525.4 1219.7,519.9 1209.4,514.3 1199.0,508.6 1188.5,502.8 1177.8,496.9 1167.0,490.8 1156.1,484.6 1145.0,478.3 1133.7,471.8 1122.3,465.2 1110.8,458.4 1099.1,451.4 1087.2,444.3 1075.2,437.0 1062.9,429.5 1050.5,421.9 1037.9,414.0 1025.0,405.8 1012.0,397.5 998.7,388.9 985.2,380.0 971.4,370.9 957.4,361.4 943.2,351.6 928.6,341.5 913.7,331.1 898.6,320.2 883.0,308.9 867.2,297.1 851.0,284.8 834.3,272.0 817.3,258.6 799.8,244.6 781.8,229.8 763.3,214.2 744.2,197.7 724.5,180.3 704.2,161.7 683.1,141.8 661.3,120.4 638.6,97.3 614.9,72.3 590.2,44.8" fill="none" stroke="#ff3838" stroke-width="1.1"/><polyline points="1683.6,708.4 1676.5,705.5 1669.4,702.6 1662.3,699.6 1655.1,696.6 1647.8,693.6 1640.5,690.6 1633.2,687.5 1625.8,684.4 1618.3,681.2 1610.8,678.0 1603.3,674.8 1595.7,671.6 1588.0,668.3 1580.3,664.9 1572.5,661.6 1564.7,658.2 1556.8,654.7 1548.9,651.2 1540.9,647.7 1532.8,644.1 1524.7,640.5 1516.5,636.8 1508.2,633.1 1499.9,629.3 1491.5,625.5 1483.0,621.6 1474.5,617.7 1465.9,613.7 1457.2,609.7 1448.5,605.6 1439.6,601.5 1430.7,597.3 1421.7,593.0 1412.7,588.7 1403.5,584.3 1394.2,579.8 1384.9,575.2 1375.5,570.6 1366.0,565.9 1356.3,561.2 1346.6,556.3 1336.8,551.4 1326.9,546.4 1316.9,541.3 1306.7,536.1 1296.5,530.8 1286.1,525.4 1275.6,519.9 1265.0,514.3 1254.3,508.6 1243.4,502.8 1232.4,496.9 1221.3,490.8 1210.0,484.6 1198.6,478.3 1187.0,471.8 1175.3,465.2 1163.4,458.4 1151.3,451.4 1139.0,444.3 1126.6,437.0 1114.0,429.5 1101.2,421.9 1088.2,414.0 1074.9,405.8 1061.5,397.5 1047.8,388.9 1033.8,380.0 1019.6,370.9 1005.2,361.4 990.4,351.6 975.4,341.5 960.1,331.1 944.4,320.2 928.4,308.9 912.0,297.1 895.2,284.8 878.0,272.0 860.4,258.6 842.3,244.6 823.7,229.8 804.5,214.2 784.8,197.7 764.4,180.3 743.3,161.7 721.5,141.8 698.9,120.4 675.3,97.3 650.7,72.3 625.0,44.8" fill="none" stroke="#ff3838" stroke-width="1.1"/><polyline points="1751.0,708.4 1743.7,705.5 1736.4,702.6 1729.1,699.6 1721.7,696.6 1714.2,693.6 1706.7,690.6 1699.2,687.5 1691.6,684.4 1683.9,681.2 1676.2,678.0 1668.5,674.8 1660.7,671.6 1652.8,668.3 1644.9,664.9 1636.9,661.6 1628.8,658.2 1620.7,654.7 1612.6,651.2 1604.3,647.7 1596.0,644.1 1587.7,640.5 1579.3,636.8 1570.8,633.1 1562.2,629.3 1553.6,625.5 1544.9,621.6 1536.1,617.7 1527.3,613.7 1518.3,609.7 1509.3,605.6 1500.2,601.5 1491.1,597.3 1481.8,593.0 1472.5,588.7 1463.1,584.3 1453.6,579.8 1444.0,575.2 1434.3,570.6 1424.5,565.9 1414.6,561.2 1404.6,556.3 1394.5,551.4 1384.3,546.4 1373.9,541.3 1363.5,536.1 1353.0,530.8 1342.3,525.4 1331.5,519.9 1320.6,514.3 1309.6,508.6 1298.4,502.8 1287.0,496.9 1275.6,490.8 1264.0,484.6 1252.2,478.3 1240.3,471.8 1228.2,465.2 1215.9,458.4 1203.5,451.4 1190.9,444.3 1178.1,437.0 1165.1,429.5 1151.9,421.9 1138.5,414.0 1124.8,405.8 1110.9,397.5 1096.8,388.9 1082.5,380.0 1067.8,370.9 1052.9,361.4 1037.7,351.6 1022.2,341.5 1006.4,331.1 990.2,320.2 973.7,308.9 956.8,297.1 939.4,284.8 921.7,272.0 903.5,258.6 884.8,244.6 865.6,229.8 845.8,214.2 825.3,197.7 804.3,180.3 782.5,161.7 759.9,141.8 736.4,120.4 712.0,97.3 686.6,72.3 659.9,44.8" fill="none" stroke="#ff3838" stroke-width="1.1"/><polyline points="1818.4,708.4 1810.9,705.5 1803.4,702.6 1795.9,699.6 1788.3,696.6 1780.6,693.6 1772.9,690.6 1765.2,687.5 1757.4,684.4 1749.5,681.2 1741.6,678.0 1733.7,674.8 1725.6,671.6 1717.5,668.3 1709.4,664.9 1701.2,661.6 1692.9,658.2 1684.6,654.7 1676.2,651.2 1667.8,647.7 1659.3,644.1 1650.7,640.5 1642.0,636.8 1633.3,633.1 1624.5,629.3 1615.7,625.5 1606.7,621.6 1597.7,617.7 1588.6,613.7 1579.4,609.7 1570.2,605.6 1560.8,601.5 1551.4,597.3 1541.9,593.0 1532.3,588.7 1522.6,584.3 1512.9,579.8 1503.0,575.2 1493.0,570.6 1483.0,565.9 1472.8,561.2 1462.5,556.3 1452.1,551.4 1441.6,546.4 1431.0,541.3 1420.3,536.1 1409.5,530.8 1398.5,525.4 1387.4,519.9 1376.2,514.3 1364.8,508.6 1353.3,502.8 1341.7,496.9 1329.9,490.8 1317.9,484.6 1305.8,478.3 1293.6,471.8 1281.1,465.2 1268.5,458.4 1255.7,451.4 1242.7,444.3 1229.6,437.0 1216.2,429.5 1202.6,421.9 1188.8,414.0 1174.7,405.8 1160.4,397.5 1145.9,388.9 1131.1,380.0 1116.0,370.9 1100.7,361.4 1085.0,351.6 1069.0,341.5 1052.7,331.1 1036.0,320.2 1019.0,308.9 1001.5,297.1 983.7,284.8 965.4,272.0 946.6,258.6 927.3,244.6 907.4,229.8 887.0,214.2 865.9,197.7 844.2,180.3 821.6,161.7 798.3,141.8 774.0,120.4 748.8,97.3 722.4,72.3 694.7,44.8" fill="none" stroke="#ff3838" stroke-width="1.1"/><polyline points="1885.8,708.4 1878.1,705.5 1870.5,702.6 1862.7,699.6 1854.9,696.6 1847.1,693.6 1839.2,690.6 1831.2,687.5 1823.2,684.4 1815.1,681.2 1807.0,678.0 1798.8,674.8 1790.6,671.6 1782.3,668.3 1774.0,664.9 1765.5,661.6 1757.1,658.2 1748.5,654.7 1739.9,651.2 1731.2,647.7 1722.5,644.1 1713.7,640.5 1704.8,636.8 1695.8,633.1 1686.8,629.3 1677.7,625.5 1668.5,621.6 1659.3,617.7 1650.0,613.7 1640.5,609.7 1631.0,605.6 1621.5,601.5 1611.8,597.3 1602.0,593.0 1592.2,588.7 1582.2,584.3 1572.2,579.8 1562.0,575.2 1551.8,570.6 1541.5,565.9 1531.0,561.2 1520.5,556.3 1509.8,551.4 1499.0,546.4 1488.1,541.3 1477.1,536.1 1466.0,530.8 1454.7,525.4 1443.3,519.9 1431.8,514.3 1420.1,508.6 1408.3,502.8 1396.3,496.9 1384.2,490.8 1371.9,484.6 1359.4,478.3 1346.8,471.8 1334.1,465.2 1321.1,458.4 1307.9,451.4 1294.6,444.3 1281.0,437.0 1267.3,429.5 1253.3,421.9 1239.1,414.0 1224.6,405.8 1209.9,397.5 1195.0,388.9 1179.7,380.0 1164.2,370.9 1148.4,361.4 1132.3,351.6 1115.8,341.5 1099.0,331.1 1081.9,320.2 1064.3,308.9 1046.3,297.1 1027.9,284.8 1009.1,272.0 989.7,258.6 969.8,244.6 949.3,229.8 928.2,214.2 906.5,197.7 884.0,180.3 860.8,161.7 836.7,141.8 811.6,120.4 785.5,97.3 758.2,72.3 729.6,44.8" fill="none" stroke="#ff3838" stroke-width="1.1"/><polyline points="1953.2,708.4 1945.4,705.5 1937.5,702.6 1929.5,699.6 1921.5,696.6 1913.5,693.6 1905.4,690.6 1897.2,687.5 1889.0,684.4 1880.7,681.2 1872.4,678.0 1864.0,674.8 1855.6,671.6 1847.1,668.3 1838.5,664.9 1829.9,661.6 1821.2,658.2 1812.4,654.7 1803.6,651.2 1794.7,647.7 1785.7,644.1 1776.7,640.5 1767.6,636.8 1758.4,633.1 1749.1,629.3 1739.8,625.5 1730.4,621.6 1720.9,617.7 1711.3,613.7 1701.6,609.7 1691.9,605.6 1682.1,601.5 1672.1,597.3 1662.1,593.0 1652.0,588.7 1641.8,584.3 1631.5,579.8 1621.1,575.2 1610.6,570.6 1600.0,565.9 1589.2,561.2 1578.4,556.3 1567.5,551.4 1556.4,546.4 1545.2,541.3 1533.9,536.1 1522.5,530.8 1510.9,525.4 1499.2,519.9 1487.3,514.3 1475.3,508.6 1463.2,502.8 1450.9,496.9 1438.5,490.8 1425.9,484.6 1413.1,478.3 1400.1,471.8 1387.0,465.2 1373.7,458.4 1360.1,451.4 1346.4,444.3 1332.5,437.0 1318.3,429.5 1304.0,421.9 1289.4,414.0 1274.5,405.8 1259.4,397.5 1244.0,388.9 1228.4,380.0 1212.4,370.9 1196.2,361.4 1179.6,351.6 1162.6,341.5 1145.4,331.1 1127.7,320.2 1109.6,308.9 1091.1,297.1 1072.2,284.8 1052.7,272.0 1032.8,258.6 1012.3,244.6 991.2,229.8 969.5,214.2 947.1,197.7 923.9,180.3 899.9,161.7 875.0,141.8 849.2,120.4 822.2,97.3 794.0,72.3 764.4,44.8" fill="none" stroke="#ff3838" stroke-width="1.1"/><polyline points="2020.6,708.4 2012.6,705.5 2004.5,702.6 1996.3,699.6 1988.1,696.6 1979.9,693.6 1971.6,690.6 1963.2,687.5 1954.8,684.4 1946.3,681.2 1937.8,678.0 1929.2,674.8 1920.6,671.6 1911.8,668.3 1903.1,664.9 1894.2,661.6 1885.3,658.2 1876.3,654.7 1867.3,651.2 1858.1,647.7 1848.9,644.1 1839.7,640.5 1830.3,636.8 1820.9,633.1 1811.4,629.3 1801.9,625.5 1792.2,621.6 1782.5,617.7 1772.6,613.7 1762.7,609.7 1752.7,605.6 1742.7,601.5 1732.5,597.3 1722.2,593.0 1711.8,588.7 1701.4,584.3 1690.8,579.8 1680.1,575.2 1669.4,570.6 1658.5,565.9 1647.5,561.2 1636.4,556.3 1625.1,551.4 1613.8,546.4 1602.3,541.3 1590.7,536.1 1579.0,530.8 1567.1,525.4 1555.1,519.9 1542.9,514.3 1530.6,508.6 1518.2,502.8 1505.5,496.9 1492.8,490.8 1479.8,484.6 1466.7,478.3 1453.4,471.8 1439.9,465.2 1426.2,458.4 1412.3,451.4 1398.3,444.3 1384.0,437.0 1369.4,429.5 1354.7,421.9 1339.7,414.0 1324.4,405.8 1308.9,397.5 1293.1,388.9 1277.0,380.0 1260.6,370.9 1243.9,361.4 1226.8,351.6 1209.4,341.5 1191.7,331.1 1173.5,320.2 1154.9,308.9 1135.9,297.1 1116.4,284.8 1096.4,272.0 1075.9,258.6 1054.8,244.6 1033.1,229.8 1010.7,214.2 987.6,197.7 963.8,180.3 939.1,161.7 913.4,141.8 886.7,120.4 858.9,97.3 829.8,72.3 799.3,44.8" fill="none" stroke="#ff3838" stroke-width="1.1"/><polyline points="32.3,708.4 30.1,705.5 27.8,702.6 25.6,699.6 23.3,696.6 21.0,693.6 18.7,690.6 16.4,687.5 14.0,684.4 11.7,681.2 9.3,678.0 7.0,674.8 4.6,671.6 2.2,668.3 -0.2,664.9 -2.7,661.6 -5.1,658.2 -7.6,654.7 -10.0,651.2 -12.5,647.7 -15.0,644.1 -17.6,640.5 -20.1,636.8 -22.6,633.1 -25.2,629.3 -27.8,625.5 -30.4,621.6 -33.0,617.7 -35.6,613.7 -38.3,609.7 -40.9,605.6 -43.6,601.5 -46.3,597.3 -49.0,593.0 -51.7,588.7 -54.5,584.3 -57.2,579.8 -60.0,575.2 -62.8,570.6 -65.6,565.9 -68.5,561.2 -71.3,556.3 -74.2,551.4 -77.1,546.4 -80.0,541.3 -82.9,536.1 -85.8,530.8 -88.8,525.4 -91.8,519.9 -94.8,514.3 -97.8,508.6 -100.8,502.8 -103.9,496.9 -106.9,490.8 -110.0,484.6 -113.2,478.3 -116.3,471.8 -119.4,465.2 -122.6,458.4 -125.8,451.4 -129.0,444.3 -132.3,437.0 -135.5,429.5 -138.8,421.9 -142.1,414.0 -145.4,405.8 -148.8,397.5 -152.1,388.9 -155.5,380.0 -158.9,370.9 -162.3,361.4" fill="none" stroke="#0b6b0b" stroke-width="1.1"/><polyline points="66.0,708.4 63.7,705.5 61.4,702.6 59.1,699.6 56.8,696.6 54.4,693.6 52.0,690.6 49.7,687.5 47.3,684.4 44.9,681.2 42.4,678.0 40.0,674.8 37.5,671.6 35.0,668.3 32.5,664.9 30.0,661.6 27.5,658.2 24.9,654.7 22.4,651.2 19.8,647.7 17.2,644.1 14.6,640.5 11.9,636.8 9.3,633.1 6.6,629.3 3.9,625.5 1.2,621.6 -1.5,617.7 -4.3,613.7 -7.0,609.7 -9.8,605.6 -12.6,601.5 -15.4,597.3 -18.2,593.0 -21.1,588.7 -24.0,584.3 -26.8,579.8 -29.7,575.2 -32.7,570.6 -35.6,565.9 -38.6,561.2 -41.6,556.3 -44.6,551.4 -47.6,546.4 -50.7,541.3 -53.7,536.1 -56.8,530.8 -59.9,525.4 -63.1,519.9 -66.2,514.3 -69.4,508.6 -72.6,502.8 -75.8,496.9 -79.0,490.8 -82.3,484.6 -85.6,478.3 -88.9,471.8 -92.2,465.2 -95.6,458.4 -99.0,451.4 -102.4,444.3 -105.8,437.0 -109.3,429.5 -112.8,421.9 -116.3,414.0 -119.8,405.8 -123.3,397.5 -126.9,388.9 -130.5,380.0 -134.1,370.9 -137.8,361.4" fill="none" stroke="#0b6b0b" stroke-width="1.1"/><polyline points="99.7,708.4 97.4,705.5 95.1,702.6 92.7,699.6 90.3,696.6 87.9,693.6 85.5,690.6 83.1,687.5 80.6,684.4 78.2,681.2 75.7,678.0 73.2,674.8 70.7,671.6 68.1,668.3 65.5,664.9 63.0,661.6 60.3,658.2 57.7,654.7 55.1,651.2 52.4,647.7 49.7,644.1 47.0,640.5 44.3,636.8 41.6,633.1 38.8,629.3 36.0,625.5 33.2,621.6 30.4,617.7 27.5,613.7 24.7,609.7 21.8,605.6 18.9,601.5 15.9,597.3 13.0,593.0 10.0,588.7 7.0,584.3 4.0,579.8 1.0,575.2 -2.1,570.6 -5.2,565.9 -8.3,561.2 -11.4,556.3 -14.5,551.4 -17.7,546.4 -20.9,541.3 -24.1,536.1 -27.4,530.8 -30.6,525.4 -33.9,519.9 -37.2,514.3 -40.6,508.6 -43.9,502.8 -47.3,496.9 -50.7,490.8 -54.2,484.6 -57.6,478.3 -61.1,471.8 -64.6,465.2 -68.2,458.4 -71.7,451.4 -75.3,444.3 -79.0,437.0 -82.6,429.5 -86.3,421.9 -90.0,414.0 -93.7,405.8 -97.5,397.5 -101.3,388.9 -105.1,380.0 -109.0,370.9 -112.8,361.4" fill="none" stroke="#0b6b0b" stroke-width="1.1"/><polyline points="133.4,708.4 131.1,705.5 128.7,702.6 126.4,699.6 124.0,696.6 121.6,693.6 119.2,690.6 116.7,687.5 114.3,684.4 111.8,681.2 109.2,678.0 106.7,674.8 104.1,671.6 101.5,668.3 98.9,664.9 96.3,661.6 93.6,658.2 90.9,654.7 88.2,651.2 85.5,647.7 82.7,644.1 80.0,640.5 77.2,636.8 74.3,633.1 71.5,629.3 68.6,625.5 65.7,621.6 62.8,617.7 59.9,613.7 56.9,609.7 53.9,605.6 50.9,601.5 47.9,597.3 44.8,593.0 41.7,588.7 38.6,584.3 35.5,579.8 32.3,575.2 29.1,570.6 25.9,565.9 22.7,561.2 19.4,556.3 16.1,551.4 12.8,546.4 9.5,541.3 6.1,536.1 2.7,530.8 -0.7,525.4 -4.1,519.9 -7.6,514.3 -11.1,508.6 -14.6,502.8 -18.2,496.9 -21.8,490.8 -25.4,484.6 -29.0,478.3 -32.7,471.8 -36.4,465.2 -40.1,458.4 -43.9,451.4 -47.7,444.3 -51.5,437.0 -55.3,429.5 -59.2,421.9 -63.1,414.0 -67.1,405.8 -71.1,397.5 -75.1,388.9 -79.1,380.0 -83.2,370.9 -87.3,361.4" fill="none" stroke="#0b6b0b" stroke-width="1.1"/><polyline points="167.1,708.4 164.8,705.5 162.5,702.6 160.2,699.6 157.8,696.6 155.5,693.6 153.0,690.6 150.6,687.5 148.1,684.4 145.6,681.2 143.1,678.0 140.6,674.8 138.0,671.6 135.4,668.3 132.8,664.9 130.1,661.6 127.4,658.2 124.7,654.7 122.0,651.2 119.2,647.7 116.4,644.1 113.6,640.5 110.7,636.8 107.8,633.1 104.9,629.3 102.0,625.5 99.0,621.6 96.0,617.7 93.0,613.7 90.0,609.7 86.9,605.6 83.8,601.5 80.6,597.3 77.5,593.0 74.3,588.7 71.1,584.3 67.8,579.8 64.6,575.2 61.3,570.6 57.9,565.9 54.6,561.2 51.2,556.3 47.7,551.4 44.3,546.4 40.8,541.3 37.3,536.1 33.8,530.8 30.2,525.4 26.6,519.9 23.0,514.3 19.3,508.6 15.6,502.8 11.9,496.9 8.1,490.8 4.4,484.6 0.5,478.3 -3.3,471.8 -7.2,465.2 -11.1,458.4 -15.1,451.4 -19.1,444.3 -23.1,437.0 -27.2,429.5 -31.3,421.9 -35.4,414.0 -39.6,405.8 -43.8,397.5 -48.0,388.9 -52.3,380.0 -56.6,370.9 -61.0,361.4" fill="none" stroke="#0b6b0b" stroke-width="1.1"/><polyline points="200.8,708.4 198.6,705.5 196.4,702.6 194.1,699.6 191.8,696.6 189.5,693.6 187.2,690.6 184.8,687.5 182.4,684.4 179.9,681.2 177.5,678.0 175.0,674.8 172.4,671.6 169.8,668.3 167.2,664.9 164.6,661.6 161.9,658.2 159.2,654.7 156.5,651.2 153.7,647.7 150.9,644.1 148.1,640.5 145.2,636.8 142.3,633.1 139.3,629.3 136.4,625.5 133.4,621.6 130.3,617.7 127.3,613.7 124.1,609.7 121.0,605.6 117.8,601.5 114.6,597.3 111.4,593.0 108.1,588.7 104.8,584.3 101.4,579.8 98.1,575.2 94.7,570.6 91.2,565.9 87.7,561.2 84.2,556.3 80.7,551.4 77.1,546.4 73.5,541.3 69.8,536.1 66.2,530.8 62.4,525.4 58.7,519.9 54.9,514.3 51.1,508.6 47.2,502.8 43.3,496.9 39.4,490.8 35.4,484.6 31.4,478.3 27.4,471.8 23.3,465.2 19.2,458.4 15.0,451.4 10.8,444.3 6.6,437.0 2.3,429.5 -2.0,421.9 -6.4,414.0 -10.8,405.8 -15.2,397.5 -19.7,388.9 -24.2,380.0 -28.8,370.9 -33.4,361.4" fill="none" stroke="#0b6b0b" stroke-width="1.1"/><polyline points="234.5,708.4 232.4,705.5 230.3,702.6 228.2,699.6 226.0,696.6 223.9,693.6 221.6,690.6 219.3,687.5 217.0,684.4 214.7,681.2 212.3,678.0 209.9,674.8 207.5,671.6 205.0,668.3 202.4,664.9 199.9,661.6 197.3,658.2 194.6,654.7 191.9,651.2 189.2,647.7 186.4,644.1 183.6,640.5 180.8,636.8 177.9,633.1 175.0,629.3 172.0,625.5 169.0,621.6 166.0,617.7 162.9,613.7 159.8,609.7 156.6,605.6 153.4,601.5 150.1,597.3 146.9,593.0 143.5,588.7 140.2,584.3 136.7,579.8 133.3,575.2 129.8,570.6 126.3,565.9 122.7,561.2 119.1,556.3 115.4,551.4 111.7,546.4 108.0,541.3 104.2,536.1 100.4,530.8 96.5,525.4 92.6,519.9 88.7,514.3 84.7,508.6 80.7,502.8 76.6,496.9 72.5,490.8 68.4,484.6 64.2,478.3 59.9,471.8 55.7,465.2 51.3,458.4 47.0,451.4 42.6,444.3 38.1,437.0 33.6,429.5 29.0,421.9 24.4,414.0 19.8,405.8 15.1,397.5 10.4,388.9 5.6,380.0 0.7,370.9 -4.1,361.4" fill="none" stroke="#0b6b0b" stroke-width="1.1"/><polyline points="268.2,708.4 266.3,705.5 264.4,702.6 262.4,699.6 260.5,696.6 258.4,693.6 256.4,690.6 254.3,687.5 252.1,684.4 249.9,681.2 247.7,678.0 245.5,674.8 243.2,671.6 240.8,668.3 238.4,664.9 236.0,661.6 233.5,658.2 231.0,654.7 228.5,651.2 225.8,647.7 223.2,644.1 220.5,640.5 217.7,636.8 214.9,633.1 212.1,629.3 209.2,625.5 206.3,621.6 203.3,617.7 200.3,613.7 197.2,609.7 194.0,605.6 190.9,601.5 187.6,597.3 184.3,593.0 181.0,588.7 177.6,584.3 174.2,579.8 170.7,575.2 167.2,570.6 163.6,565.9 160.0,561.2 156.3,556.3 152.5,551.4 148.8,546.4 144.9,541.3 141.0,536.1 137.1,530.8 133.1,525.4 129.1,519.9 125.0,514.3 120.9,508.6 116.7,502.8 112.5,496.9 108.2,490.8 103.9,484.6 99.5,478.3 95.1,471.8 90.6,465.2 86.1,458.4 81.5,451.4 76.8,444.3 72.2,437.0 67.4,429.5 62.6,421.9 57.8,414.0 52.9,405.8 47.9,397.5 42.9,388.9 37.8,380.0 32.7,370.9 27.5,361.4" fill="none" stroke="#0b6b0b" stroke-width="1.1"/><polyline points="301.9,708.4 300.2,705.5 298.5,702.6 296.8,699.6 295.0,696.6 293.2,693.6 291.4,690.6 289.5,687.5 287.6,684.4 285.6,681.2 283.6,678.0 281.6,674.8 279.5,671.6 277.4,668.3 275.2,664.9 273.0,661.6 270.7,658.2 268.4,654.7 266.1,651.2 263.6,647.7 261.2,644.1 258.7,640.5 256.1,636.8 253.5,633.1 250.8,629.3 248.1,625.5 245.3,621.6 242.4,617.7 239.6,613.7 236.6,609.7 233.6,605.6 230.5,601.5 227.4,597.3 224.2,593.0 220.9,588.7 217.6,584.3 214.2,579.8 210.8,575.2 207.3,570.6 203.7,565.9 200.1,561.2 196.4,556.3 192.7,551.4 188.9,546.4 185.0,541.3 181.1,536.1 177.1,530.8 173.0,525.4 168.9,519.9 164.7,514.3 160.5,508.6 156.1,502.8 151.8,496.9 147.3,490.8 142.9,484.6 138.3,478.3 133.7,471.8 129.0,465.2 124.3,458.4 119.5,451.4 114.6,444.3 109.7,437.0 104.7,429.5 99.7,421.9 94.6,414.0 89.4,405.8 84.1,397.5 78.8,388.9 73.5,380.0 68.0,370.9 62.5,361.4" fill="none" stroke="#0b6b0b" stroke-width="1.1"/><polyline points="335.6,708.4 334.2,705.5 332.7,702.6 331.3,699.6 329.8,696.6 328.2,693.6 326.6,690.6 325.0,687.5 323.4,684.4 321.7,681.2 320.0,678.0 318.2,674.8 316.4,671.6 314.5,668.3 312.6,664.9 310.7,661.6 308.7,658.2 306.7,654.7 304.6,651.2 302.5,647.7 300.3,644.1 298.0,640.5 295.7,636.8 293.4,633.1 291.0,629.3 288.5,625.5 286.0,621.6 283.4,617.7 280.8,613.7 278.0,609.7 275.3,605.6 272.4,601.5 269.5,597.3 266.5,593.0 263.5,588.7 260.3,584.3 257.1,579.8 253.9,575.2 250.5,570.6 247.1,565.9 243.6,561.2 240.0,556.3 236.3,551.4 232.6,546.4 228.8,541.3 224.9,536.1 220.9,530.8 216.9,525.4 212.8,519.9 208.5,514.3 204.3,508.6 199.9,502.8 195.4,496.9 190.9,490.8 186.3,484.6 181.6,478.3 176.9,471.8 172.0,465.2 167.1,458.4 162.1,451.4 157.0,444.3 151.9,437.0 146.7,429.5 141.4,421.9 136.0,414.0 130.5,405.8 125.0,397.5 119.4,388.9 113.7,380.0 107.9,370.9 102.0,361.4" fill="none" stroke="#0b6b0b" stroke-width="1.1"/><polyline points="369.3,708.4 368.1,705.5 367.0,702.6 365.8,699.6 364.5,696.6 363.3,693.6 362.0,690.6 360.7,687.5 359.3,684.4 357.9,681.2 356.5,678.0 355.1,674.8 353.6,671.6 352.0,668.3 350.5,664.9 348.9,661.6 347.2,658.2 345.5,654.7 343.8,651.2 342.0,647.7 340.2,644.1 338.3,640.5 336.3,636.8 334.3,633.1 332.3,629.3 330.2,625.5 328.0,621.6 325.8,617.7 323.5,613.7 321.2,609.7 318.7,605.6 316.2,601.5 313.7,597.3 311.0,593.0 308.3,588.7 305.5,584.3 302.7,579.8 299.7,575.2 296.7,570.6 293.6,565.9 290.3,561.2 287.0,556.3 283.7,551.4 280.2,546.4 276.6,541.3 272.9,536.1 269.1,530.8 265.2,525.4 261.3,519.9 257.2,514.3 253.0,508.6 248.7,502.8 244.3,496.9 239.8,490.8 235.2,484.6 230.5,478.3 225.7,471.8 220.8,465.2 215.8,458.4 210.7,451.4 205.4,444.3 200.1,437.0 194.7,429.5 189.2,421.9 183.5,414.0 177.8,405.8 172.0,397.5 166.0,388.9 160.0,380.0 153.9,370.9 147.7,361.4" fill="none" stroke="#0b6b0b" stroke-width="1.1"/><polyline points="403.0,708.4 402.1,705.5 401.2,702.6 400.3,699.6 399.3,696.6 398.4,693.6 397.4,690.6 396.3,687.5 395.3,684.4 394.2,681.2 393.1,678.0 392.0,674.8 390.8,671.6 389.6,668.3 388.4,664.9 387.2,661.6 385.9,658.2 384.5,654.7 383.2,651.2 381.8,647.7 380.3,644.1 378.8,640.5 377.3,636.8 375.7,633.1 374.1,629.3 372.4,625.5 370.7,621.6 368.9,617.7 367.1,613.7 365.2,609.7 363.2,605.6 361.2,601.5 359.1,597.3 356.9,593.0 354.7,588.7 352.4,584.3 350.0,579.8 347.6,575.2 345.0,570.6 342.4,565.9 339.7,561.2 336.8,556.3 333.9,551.4 330.9,546.4 327.8,541.3 324.5,536.1 321.2,530.8 317.7,525.4 314.2,519.9 310.5,514.3 306.6,508.6 302.7,502.8 298.6,496.9 294.4,490.8 290.0,484.6 285.5,478.3 280.9,471.8 276.2,465.2 271.2,458.4 266.2,451.4 261.0,444.3 255.7,437.0 250.2,429.5 244.6,421.9 238.8,414.0 232.9,405.8 226.9,397.5 220.7,388.9 214.4,380.0 207.9,370.9 201.3,361.4" fill="none" stroke="#0b6b0b" stroke-width="1.1"/><polyline points="436.7,708.4 436.1,705.5 435.4,702.6 434.7,699.6 434.0,696.6 433.3,693.6 432.6,690.6 431.9,687.5 431.1,684.4 430.4,681.2 429.6,678.0 428.7,674.8 427.9,671.6 427.0,668.3 426.2,664.9 425.2,661.6 424.3,658.2 423.3,654.7 422.3,651.2 421.3,647.7 420.3,644.1 419.2,640.5 418.1,636.8 416.9,633.1 415.7,629.3 414.5,625.5 413.2,621.6 411.9,617.7 410.6,613.7 409.2,609.7 407.7,605.6 406.2,601.5 404.7,597.3 403.1,593.0 401.4,588.7 399.7,584.3 397.9,579.8 396.0,575.2 394.1,570.6 392.1,565.9 390.0,561.2 387.8,556.3 385.5,551.4 383.2,546.4 380.7,541.3 378.2,536.1 375.5,530.8 372.7,525.4 369.8,519.9 366.8,514.3 363.7,508.6 360.4,502.8 357.0,496.9 353.4,490.8 349.7,484.6 345.8,478.3 341.7,471.8 337.5,465.2 333.1,458.4 328.5,451.4 323.8,444.3 318.8,437.0 313.7,429.5 308.3,421.9 302.7,414.0 297.0,405.8 291.0,397.5 284.8,388.9 278.5,380.0 271.9,370.9 265.1,361.4" fill="none" stroke="#0b6b0b" stroke-width="1.1"/><polyline points="470.4,708.4 470.0,705.5 469.5,702.6 469.1,699.6 468.7,696.6 468.2,693.6 467.7,690.6 467.2,687.5 466.8,684.4 466.2,681.2 465.7,678.0 465.2,674.8 464.6,671.6 464.1,668.3 463.5,664.9 462.9,661.6 462.3,658.2 461.7,654.7 461.0,651.2 460.3,647.7 459.6,644.1 458.9,640.5 458.2,636.8 457.4,633.1 456.7,629.3 455.8,625.5 455.0,621.6 454.1,617.7 453.2,613.7 452.3,609.7 451.4,605.6 450.4,601.5 449.3,597.3 448.3,593.0 447.1,588.7 446.0,584.3 444.8,579.8 443.5,575.2 442.2,570.6 440.9,565.9 439.5,561.2 438.0,556.3 436.4,551.4 434.8,546.4 433.1,541.3 431.4,536.1 429.5,530.8 427.6,525.4 425.6,519.9 423.4,514.3 421.2,508.6 418.8,502.8 416.4,496.9 413.8,490.8 411.0,484.6 408.1,478.3 405.1,471.8 401.9,465.2 398.5,458.4 394.9,451.4 391.1,444.3 387.1,437.0 382.9,429.5 378.5,421.9 373.8,414.0 368.8,405.8 363.6,397.5 358.1,388.9 352.3,380.0 346.2,370.9 339.8,361.4" fill="none" stroke="#0b6b0b" stroke-width="1.1"/><polyline points="504.1,708.4 503.9,705.5 503.6,702.6 503.4,699.6 503.1,696.6 502.9,693.6 502.6,690.6 502.4,687.5 502.1,684.4 501.8,681.2 501.5,678.0 501.2,674.8 500.9,671.6 500.6,668.3 500.3,664.9 500.0,661.6 499.6,658.2 499.3,654.7 498.9,651.2 498.6,647.7 498.2,644.1 497.8,640.5 497.4,636.8 497.0,633.1 496.5,629.3 496.1,625.5 495.6,621.6 495.2,617.7 494.7,613.7 494.1,609.7 493.6,605.6 493.0,601.5 492.5,597.3 491.9,593.0 491.2,588.7 490.6,584.3 489.9,579.8 489.2,575.2 488.5,570.6 487.7,565.9 486.9,561.2 486.0,556.3 485.1,551.4 484.2,546.4 483.2,541.3 482.2,536.1 481.1,530.8 480.0,525.4 478.8,519.9 477.5,514.3 476.2,508.6 474.8,502.8 473.3,496.9 471.8,490.8 470.1,484.6 468.3,478.3 466.4,471.8 464.4,465.2 462.3,458.4 460.1,451.4 457.6,444.3 455.0,437.0 452.3,429.5 449.3,421.9 446.1,414.0 442.7,405.8 439.0,397.5 435.1,388.9 430.8,380.0 426.3,370.9 421.4,361.4" fill="none" stroke="#0b6b0b" stroke-width="1.1"/><polyline points="537.8,708.4 537.7,705.5 537.6,702.6 537.6,699.6 537.5,696.6 537.4,693.6 537.3,690.6 537.2,687.5 537.2,684.4 537.1,681.2 537.0,678.0 536.9,674.8 536.8,671.6 536.7,668.3 536.6,664.9 536.5,661.6 536.4,658.2 536.2,654.7 536.1,651.2 536.0,647.7 535.9,644.1 535.7,640.5 535.6,636.8 535.5,633.1 535.3,629.3 535.2,625.5 535.0,621.6 534.8,617.7 534.6,613.7 534.5,609.7 534.3,605.6 534.1,601.5 533.8,597.3 533.6,593.0 533.4,588.7 533.1,584.3 532.9,579.8 532.6,575.2 532.3,570.6 532.0,565.9 531.7,561.2 531.3,556.3 531.0,551.4 530.6,546.4 530.2,541.3 529.8,536.1 529.3,530.8 528.9,525.4 528.4,519.9 527.8,514.3 527.2,508.6 526.6,502.8 526.0,496.9 525.3,490.8 524.5,484.6 523.7,478.3 522.9,471.8 521.9,465.2 520.9,458.4 519.9,451.4 518.7,444.3 517.5,437.0 516.1,429.5 514.6,421.9 513.0,414.0 511.3,405.8 509.4,397.5 507.4,388.9 505.1,380.0 502.6,370.9 499.9,361.4" fill="none" stroke="#0b6b0b" stroke-width="1.1"/><polyline points="571.5,708.4 571.5,705.5 571.6,702.6 571.7,699.6 571.7,696.6 571.8,693.6 571.8,690.6 571.9,687.5 571.9,684.4 572.0,681.2 572.1,678.0 572.1,674.8 572.2,671.6 572.3,668.3 572.3,664.9 572.4,661.6 572.5,658.2 572.5,654.7 572.6,651.2 572.7,647.7 572.7,644.1 572.8,640.5 572.9,636.8 572.9,633.1 573.0,629.3 573.1,625.5 573.1,621.6 573.2,617.7 573.3,613.7 573.3,609.7 573.4,605.6 573.5,601.5 573.5,597.3 573.6,593.0 573.7,588.7 573.7,584.3 573.8,579.8 573.8,575.2 573.9,570.6 573.9,565.9 574.0,561.2 574.0,556.3 574.1,551.4 574.1,546.4 574.1,541.3 574.2,536.1 574.2,530.8 574.2,525.4 574.2,519.9 574.2,514.3 574.1,508.6 574.1,502.8 574.1,496.9 574.0,490.8 573.9,484.6 573.9,478.3 573.7,471.8 573.6,465.2 573.5,458.4 573.3,451.4 573.0,444.3 572.8,437.0 572.5,429.5 572.2,421.9 571.8,414.0 571.3,405.8 570.8,397.5 570.3,388.9 569.6,380.0 568.9,370.9 568.0,361.4" fill="none" stroke="#0b6b0b" stroke-width="1.1"/><polyline points="605.2,708.4 605.3,705.5 605.5,702.6 605.7,699.6 605.8,696.6 606.0,693.6 606.1,690.6 606.3,687.5 606.5,684.4 606.7,681.2 606.8,678.0 607.0,674.8 607.2,671.6 607.4,668.3 607.6,664.9 607.8,661.6 608.0,658.2 608.2,654.7 608.4,651.2 608.6,647.7 608.8,644.1 609.0,640.5 609.3,636.8 609.5,633.1 609.7,629.3 610.0,625.5 610.2,621.6 610.4,617.7 610.7,613.7 611.0,609.7 611.2,605.6 611.5,601.5 611.7,597.3 612.0,593.0 612.3,588.7 612.6,584.3 612.9,579.8 613.2,575.2 613.5,570.6 613.8,565.9 614.1,561.2 614.4,556.3 614.7,551.4 615.1,546.4 615.4,541.3 615.7,536.1 616.1,530.8 616.4,525.4 616.8,519.9 617.2,514.3 617.5,508.6 617.9,502.8 618.3,496.9 618.7,490.8 619.1,484.6 619.5,478.3 619.9,471.8 620.3,465.2 620.7,458.4 621.1,451.4 621.5,444.3 621.9,437.0 622.3,429.5 622.8,421.9 623.2,414.0 623.6,405.8 624.0,397.5 624.4,388.9 624.8,380.0 625.2,370.9 625.5,361.4" fill="none" stroke="#0b6b0b" stroke-width="1.1"/><polyline points="214.0,722.5 226.9,693.6 241.4,661.6 257.7,625.5 276.5,584.3 298.7,536.1 325.7,478.3 341.7,444.3" fill="none" stroke="#b030e0" stroke-width="1.1" stroke-dasharray="3,2"/><polyline points="272.2,722.5 284.4,693.6 298.2,661.6 313.8,625.5 331.8,584.3 353.0,536.1 378.9,478.3 394.2,444.3" fill="none" stroke="#b030e0" stroke-width="1.1" stroke-dasharray="3,2"/><polyline points="308.3,722.5 320.1,693.6 333.4,661.6 348.6,625.5 366.0,584.3 386.7,536.1 411.8,478.3 426.7,444.3" fill="none" stroke="#b030e0" stroke-width="1.1" stroke-dasharray="3,2"/><polyline points="334.9,722.5 346.5,693.6 359.5,661.6 374.2,625.5 391.3,584.3 411.5,536.1 436.1,478.3 450.7,444.3" fill="none" stroke="#b030e0" stroke-width="1.1" stroke-dasharray="3,2"/><polyline points="374.0,722.5 385.1,693.6 397.6,661.6 411.8,625.5 428.3,584.3 447.8,536.1 471.6,478.3 485.8,444.3" fill="none" stroke="#b030e0" stroke-width="1.1" stroke-dasharray="3,2"/><polyline points="402.9,722.5 413.7,693.6 425.8,661.6 439.7,625.5 455.7,584.3 474.7,536.1 497.9,478.3 511.7,444.3" fill="none" stroke="#b030e0" stroke-width="1.1" stroke-dasharray="3,2"/><polyline points="426.1,722.5 436.6,693.6 448.4,661.6 461.9,625.5 477.6,584.3 496.1,536.1 518.8,478.3 532.4,444.3" fill="none" stroke="#b030e0" stroke-width="1.1" stroke-dasharray="3,2"/><polyline points="469.9,722.5 479.8,693.6 491.1,661.6 503.9,625.5 518.9,584.3 536.6,536.1 558.4,478.3 571.4,444.3" fill="none" stroke="#b030e0" stroke-width="1.1" stroke-dasharray="3,2"/><polyline points="502.4,722.5 511.9,693.6 522.8,661.6 535.1,625.5 549.5,584.3 566.7,536.1 587.8,478.3 600.4,444.3" fill="none" stroke="#b030e0" stroke-width="1.1" stroke-dasharray="3,2"/><polyline points="528.5,722.5 537.7,693.6 548.2,661.6 560.2,625.5 574.1,584.3 590.8,536.1 611.3,478.3 623.6,444.3" fill="none" stroke="#b030e0" stroke-width="1.1" stroke-dasharray="3,2"/><polyline points="550.4,722.5 559.4,693.6 569.6,661.6 581.2,625.5 594.8,584.3 611.0,536.1 631.1,478.3 643.0,444.3" fill="none" stroke="#b030e0" stroke-width="1.1" stroke-dasharray="3,2"/><polyline points="569.5,722.5 578.2,693.6 588.1,661.6 599.4,625.5 612.7,584.3 628.6,536.1 648.2,478.3 659.9,444.3" fill="none" stroke="#b030e0" stroke-width="1.1" stroke-dasharray="3,2"/><polyline points="586.3,722.5 594.8,693.6 604.5,661.6 615.6,625.5 628.6,584.3 644.1,536.1 663.3,478.3 674.8,444.3" fill="none" stroke="#b030e0" stroke-width="1.1" stroke-dasharray="3,2"/></g>
<line x1="60" y1="44.8" x2="605.3" y2="44.8" stroke="#000" stroke-width="2.1"/>
<line x1="60" y1="244.6" x2="605.3" y2="244.6" stroke="#000" stroke-width="2.1"/>
<line x1="60" y1="361.4" x2="605.3" y2="361.4" stroke="#000" stroke-width="2.1"/>
<line x1="60" y1="444.3" x2="605.3" y2="444.3" stroke="#000" stroke-width="2.1"/>
<line x1="60" y1="508.6" x2="605.3" y2="508.6" stroke="#000" stroke-width="2.1"/>
<line x1="60" y1="561.2" x2="605.3" y2="561.2" stroke="#000" stroke-width="2.1"/>
<line x1="60" y1="605.6" x2="605.3" y2="605.6" stroke="#000" stroke-width="2.1"/>
<line x1="60" y1="644.1" x2="605.3" y2="644.1" stroke="#000" stroke-width="2.1"/>
<line x1="60" y1="678.0" x2="605.3" y2="678.0" stroke="#000" stroke-width="2.1"/>
<line x1="60" y1="708.4" x2="605.3" y2="708.4" stroke="#000" stroke-width="2.1"/>
<path d="M65.3,44.8 V722.6 H605.3 V44.8" fill="none" stroke="#000" stroke-width="2.3"/>
<g clip-path="url(#pc)"><polyline points="501.0,713.6 500.6,713.3 500.3,713.1 499.9,712.8 499.5,712.5 499.2,712.2 498.8,711.9 498.5,711.6 498.1,711.4 497.7,711.1 497.4,710.8 497.0,710.5 496.6,710.2 496.3,709.9 495.9,709.6 495.6,709.4 495.2,709.1 494.8,708.8 494.5,708.5 494.1,708.2 493.7,707.9 493.4,707.6 493.0,707.3 492.6,707.0 492.3,706.8 491.9,706.5 491.5,706.2 491.2,705.9 490.8,705.6 490.5,705.3 490.1,705.0 489.7,704.7 489.4,704.4 489.0,704.1 488.6,703.8 488.3,703.6 487.9,703.3 487.5,703.0 487.2,702.7 486.8,702.4 486.4,702.1 486.0,701.8 485.7,701.5 485.3,701.2 484.9,700.9 484.6,700.6 484.2,700.3 483.8,700.0 483.5,699.7 483.1,699.4 482.7,699.1 482.4,698.8 482.0,698.5 481.6,698.2 481.2,697.9 480.9,697.6 480.5,697.3 480.1,697.0 479.8,696.7 479.4,696.4 479.0,696.1 478.6,695.8 478.3,695.5 477.9,695.2 477.5,694.9 477.1,694.6 476.8,694.3 476.4,694.0 476.0,693.7 475.7,693.4 475.3,693.1 474.9,692.8 474.5,692.5 474.2,692.2 473.8,691.9 473.4,691.6 473.0,691.3 472.7,691.0 472.3,690.7 471.9,690.4 471.5,690.1 471.1,689.7 470.8,689.4 470.4,689.1 470.0,688.8 469.6,688.5 469.3,688.2 468.9,687.9 468.5,687.6 468.1,687.3 467.7,687.0 467.4,686.7 467.0,686.3 466.6,686.0 466.2,685.7 465.9,685.4 465.5,685.1 465.1,684.8 464.7,684.5 464.3,684.2 463.9,683.8 463.6,681.7 463.2,679.6 462.9,677.4 462.5,675.2 462.1,673.0 461.7,670.8 461.3,668.6 460.9,666.3 460.5,664.0 460.1,661.7 459.6,659.4 459.2,657.1 458.8,654.8 458.3,652.4 457.8,650.0 457.4,647.6 456.9,645.2 456.4,642.8 455.9,640.3 455.4,637.8 454.8,635.3 454.3,632.8 453.8,630.2 453.2,627.6 452.6,625.0 452.0,622.4 451.4,619.8 450.8,617.1 450.2,614.4 449.5,611.7 448.9,609.0 448.2,606.2 447.5,603.4 446.8,600.6 446.1,597.7 445.3,594.8 444.6,591.9 443.8,589.0 443.0,586.0 442.2,583.0 441.3,580.0 440.4,576.9 439.5,573.8 438.6,570.7 437.7,567.5 436.7,564.3 435.7,561.0 434.7,557.8 433.6,554.5 432.5,551.1 431.4,547.7 430.2,544.3 429.0,540.8 427.8,537.3 426.5,533.7 425.2,530.1 423.9,526.5 422.5,522.8 421.0,519.0 419.5,515.2 418.0,511.4 416.4,507.5 414.7,503.6 413.0,499.6 411.3,495.5 409.4,491.4 407.5,487.2 405.6,483.0 403.6,478.7 401.5,474.3 399.3,469.9 397.0,465.3 394.7,460.8 392.3,456.1 389.8,451.4 387.2,446.6 384.5,441.7 381.7,436.7 378.8,431.7 375.7,426.5 372.6,421.3 369.4,415.9 366.0,410.5 362.6,405.0 359.0,399.3 355.3,393.5 351.4,387.7 347.4,381.6 343.3,375.5 339.1,369.2 334.7,362.8 330.2,356.3 325.5,349.6 320.7,342.7 315.8,335.7 310.7,328.5 305.4,321.1 300.1,313.5 294.6,305.7 288.9,297.7 283.2,289.4 277.3,280.9 271.2,272.2 265.1,263.2 258.8,253.9 252.3,244.3 245.8,234.3 239.1,224.0 232.3,213.3 225.4,202.2 218.3,190.7 211.1,178.7 203.8,166.1 196.4,153.0 188.8,139.3 181.1,124.8 173.3,109.7 165.3,93.6 157.2,76.6 149.0,58.6" fill="none" stroke="#10c4c8" stroke-width="2"/><polyline points="316.1,44.8 309.2,74.2 303.7,89.2 295.0,107.0 292.8,122.0 287.3,143.9 281.9,164.4 283.2,190.4 283.2,217.7 286.0,236.9 287.4,243.5 298.4,264.4 307.4,283.9 316.4,297.4 337.4,324.3 341.9,349.8 355.3,366.2 364.3,378.2 370.3,402.2 389.8,426.1 401.7,445.6 403.7,450.9 407.3,474.6 423.7,494.6 431.0,512.8 441.9,532.9 445.5,563.8 441.2,578.4 442.6,593.0 451.0,611.2 465.6,629.4 475.4,649.4 480.1,658.5 481.4,664.7 476.7,672.5 465.8,675.6 458.8,678.0 458.8,682.7 464.2,690.5 474.4,699.0 485.3,706.9 493.1,712.3 500.2,713.9" fill="none" stroke="#ff3a3a" stroke-width="4.3" stroke-linejoin="round" stroke-linecap="round"/><polyline points="210.1,163.3 206.0,171.5 195.0,190.6 225.1,209.8 234.7,215.2 249.8,242.6 259.3,265.9 270.3,297.3 260.7,323.3 273.0,334.3 292.5,351.3 332.9,378.2 341.9,403.7 326.9,429.1 256.4,452.1 378.5,473.9 278.3,494.7 281.9,512.9 254.6,532.2 281.9,549.4 278.3,565.0 367.6,580.3 367.6,594.2 414.5,607.5 393.1,618.6 311.1,630.6 298.3,640.5 294.7,656.2 328.1,661.2 333.4,667.3 334.3,672.6 337.8,674.0 417.5,679.0 430.0,682.5 442.5,686.5 458.4,689.4 453.7,713.9" fill="none" stroke="#00dc00" stroke-width="4.3" stroke-linejoin="round" stroke-linecap="round"/></g>
<text transform="scale(1.15,1)" x="113.38 125.75 138.12 150.49 162.86 175.24 187.61 199.98 212.35 224.72 245.95 258.87 270.20 295.68 308.43 321.91 332.86 355.99 369.16 380.92 392.67 404.42 416.11 421.12 432.88 455.15 461.95 474.08 491.15 503.41 518.86 523.01" y="16.0" font-size="20" fill="#000" stroke="#fff" stroke-width="0.26" >2025121712NAMBUFRSoundingforKMIA</text><text transform="scale(1.15,1)" x="138.06 150.40 162.43 184.64 191.42 203.52 210.85 222.51 233.36 245.03 256.20 272.48 282.71 294.38 299.31 304.30 326.20 338.54 350.87 363.21 375.55 387.89 400.22 412.56 424.90 437.23 459.82 466.30 477.64 489.36 501.77" y="38.2" font-size="20" fill="#000" stroke="#fff" stroke-width="0.26" >28hforecastvalid2025121816(Thu)</text><text transform="scale(1.15,1)" x="24.42 32.44 40.46" y="51.2" font-size="16.4" fill="#000" stroke="#fff" stroke-width="0.09" >100</text><text transform="scale(1.15,1)" x="24.42 32.44 40.46" y="251.0" font-size="16.4" fill="#000" stroke="#fff" stroke-width="0.09" >200</text><text transform="scale(1.15,1)" x="24.42 32.44 40.46" y="367.8" font-size="16.4" fill="#000" stroke="#fff" stroke-width="0.09" >300</text><text transform="scale(1.15,1)" x="24.42 32.44 40.46" y="450.7" font-size="16.4" fill="#000" stroke="#fff" stroke-width="0.09" >400</text><text transform="scale(1.15,1)" x="24.42 32.44 40.46" y="515.0" font-size="16.4" fill="#000" stroke="#fff" stroke-width="0.09" >500</text><text transform="scale(1.15,1)" x="24.42 32.44 40.46" y="567.6" font-size="16.4" fill="#000" stroke="#fff" stroke-width="0.09" >600</text><text transform="scale(1.15,1)" x="24.42 32.44 40.46" y="612.0" font-size="16.4" fill="#000" stroke="#fff" stroke-width="0.09" >700</text><text transform="scale(1.15,1)" x="24.42 32.44 40.46" y="650.5" font-size="16.4" fill="#000" stroke="#fff" stroke-width="0.09" >800</text><text transform="scale(1.15,1)" x="24.42 32.44 40.46" y="684.4" font-size="16.4" fill="#000" stroke="#fff" stroke-width="0.09" >900</text><text transform="scale(1.15,1)" x="16.81 24.71 32.61 40.50" y="714.8" font-size="16.4" fill="#000" stroke="#fff" stroke-width="0.09" >1000</text><g transform="translate(19.9,0) rotate(-90)"><text transform="scale(1.15,1)" x="-391.33 -380.04 -374.28 -365.13 -356.71 -348.28 -338.44 -332.68 -314.91 -308.32 -293.80 -283.71" y="0.0" font-size="17.2" fill="#000" stroke="#fff" stroke-width="0.26" >Pressure(mb)</text></g><text transform="scale(1.15,1)" x="98.85 111.20" y="743.6" font-size="20.5" fill="#4466ff" stroke="#fff" stroke-width="0.26" >30</text><line x1="97.5" y1="736.5" x2="110.3" y2="736.5" stroke="#4466ff" stroke-width="1.5"/><text transform="scale(1.15,1)" x="157.40 169.40" y="743.6" font-size="20.5" fill="#4466ff" stroke="#fff" stroke-width="0.26" >20</text><line x1="165.5" y1="736.5" x2="177.9" y2="736.5" stroke="#4466ff" stroke-width="1.5"/><text transform="scale(1.15,1)" x="216.19 228.51" y="743.6" font-size="20.5" fill="#4466ff" stroke="#fff" stroke-width="0.26" >10</text><line x1="232.5" y1="736.5" x2="245.3" y2="736.5" stroke="#4466ff" stroke-width="1.5"/><text transform="scale(1.15,1)" x="272.21" y="743.6" font-size="20.5" fill="#4466ff" stroke="#fff" stroke-width="0.26" >0</text><text transform="scale(1.15,1)" x="326.28 338.66" y="743.6" font-size="20.5" fill="#4466ff" stroke="#fff" stroke-width="0.26" >10</text><text transform="scale(1.15,1)" x="383.56 396.35" y="743.6" font-size="20.5" fill="#4466ff" stroke="#fff" stroke-width="0.26" >20</text><text transform="scale(1.15,1)" x="443.18 455.15" y="743.6" font-size="20.5" fill="#4466ff" stroke="#fff" stroke-width="0.26" >30</text><text transform="scale(1.15,1)" x="500.76 513.49" y="743.6" font-size="20.5" fill="#4466ff" stroke="#fff" stroke-width="0.26" >40</text><text transform="scale(1.15,1)" x="211.44 220.50 230.23 244.98 254.32 264.06 270.22 280.44 285.87 295.86 301.77 319.84 334.41 346.60" y="760.7" font-size="17.2" fill="#2a4dff" stroke="#2a4dff" stroke-width="0.2">Temperature(C)</text><circle cx="380.4" cy="752.2" r="1.75" fill="none" stroke="#2a4dff" stroke-width="1.60"/><text transform="scale(1.15,1)" x="483.23 492.21 501.89 511.44 515.08 526.79 535.45 540.80 549.78 560.04 586.54 601.23 610.91 620.34 629.63 634.28 639.89" y="760.0" font-size="16" fill="#ff4a4a" stroke="#fff" stroke-width="0.26" >coolwx.commodelts</text><line x1="671.0" y1="745.9" x2="662.8" y2="764.1" stroke="#ff4a4a" stroke-width="1.1"/><text x="343.9" y="439.6" font-size="11.4" fill="#a030d8" text-anchor="middle">1</text><text x="398.1" y="439.6" font-size="11.4" fill="#a030d8" text-anchor="middle">2</text><text x="430.0" y="439.6" font-size="11.4" fill="#a030d8" text-anchor="middle">3</text><text x="454.1" y="439.6" font-size="11.4" fill="#a030d8" text-anchor="middle">4</text><text x="489.4" y="439.6" font-size="11.4" fill="#a030d8" text-anchor="middle">6</text><text x="515.8" y="439.6" font-size="11.4" fill="#a030d8" text-anchor="middle">8</text><text transform="scale(1.15,1)" x="463.96 470.66" y="439.6" font-size="11.4" fill="#a030d8" >10</text><text transform="scale(1.15,1)" x="497.29 504.81" y="439.6" font-size="11.4" fill="#a030d8" >15</text><text transform="scale(1.15,1)" x="521.80 530.03" y="439.6" font-size="11.4" fill="#a030d8" >20</text><text transform="scale(1.15,1)" x="532.44 540.06" y="502.3" font-size="12.4" fill="#a030d8" >25</text><text transform="scale(1.15,1)" x="532.44 540.06" y="562.1" font-size="12.4" fill="#a030d8" >30</text><text transform="scale(1.15,1)" x="532.44 540.06" y="616.8" font-size="12.4" fill="#a030d8" >35</text><text transform="scale(1.15,1)" x="532.44 540.06" y="665.8" font-size="12.4" fill="#a030d8" >40</text><g transform="translate(650,0) rotate(-90)"><text transform="scale(1.05,1)" x="-559.04 -544.38 -540.29 -530.78 -526.69 -516.36 -498.39 -485.89 -474.75 -468.77 -464.68 -444.83 -438.03 -415.72 -406.48 -395.33" y="0.0" font-size="19.5" fill="#a020d8" stroke="#a020d8" stroke-width="0.2">MixingRatio(gkg)</text><line x1="-438.5" y1="-13.7" x2="-446.5" y2="4.0" stroke="#a020d8" stroke-width="1.9"/></g><line x1="604.4" y1="684.6" x2="615" y2="684.6" stroke="#ff4848" stroke-width="1.6"/><text transform="scale(1.15,1)" x="537.24 544.21 553.49" y="689.9" font-size="14" fill="#ff4848" stroke="#fff" stroke-width="0.26" >LCL</text>
<line x1="698.2" y1="44.7" x2="698.2" y2="722.7" stroke="#555" stroke-width="1.6"/><line x1="698.2" y1="75.8" x2="664.9" y2="78.6" stroke="#00f890" stroke-width="1.6"/><line x1="664.9" y1="78.6" x2="663.9" y2="66.6" stroke="#00f890" stroke-width="1.6"/><line x1="669.5" y1="78.2" x2="668.5" y2="66.3" stroke="#00f890" stroke-width="1.6"/><line x1="674.1" y1="77.8" x2="673.1" y2="65.9" stroke="#00f890" stroke-width="1.6"/><rect x="696.5" y="73.8" width="3.6" height="4" fill="#00f890"/><line x1="698.2" y1="106.8" x2="666.1" y2="116.1" stroke="#48f000" stroke-width="1.6"/><line x1="666.1" y1="116.1" x2="662.8" y2="104.6" stroke="#48f000" stroke-width="1.6"/><line x1="670.5" y1="114.8" x2="667.2" y2="103.3" stroke="#48f000" stroke-width="1.6"/><line x1="674.9" y1="113.5" x2="671.6" y2="102.0" stroke="#48f000" stroke-width="1.6"/><line x1="679.4" y1="112.3" x2="676.0" y2="100.7" stroke="#48f000" stroke-width="1.6"/><rect x="696.5" y="104.8" width="3.6" height="4" fill="#48f000"/><line x1="698.2" y1="136.5" x2="667.5" y2="149.1" stroke="#48f000" stroke-width="1.6"/><line x1="667.5" y1="149.1" x2="662.9" y2="138.0" stroke="#48f000" stroke-width="1.6"/><line x1="671.8" y1="147.4" x2="667.2" y2="136.3" stroke="#48f000" stroke-width="1.6"/><line x1="676.0" y1="145.6" x2="671.5" y2="134.5" stroke="#48f000" stroke-width="1.6"/><line x1="680.3" y1="143.9" x2="675.7" y2="132.8" stroke="#48f000" stroke-width="1.6"/><rect x="696.5" y="134.5" width="3.6" height="4" fill="#48f000"/><line x1="698.2" y1="163.7" x2="666.9" y2="174.2" stroke="#48f000" stroke-width="1.6"/><line x1="666.9" y1="174.2" x2="663.1" y2="162.8" stroke="#48f000" stroke-width="1.6"/><line x1="671.3" y1="172.7" x2="667.4" y2="161.4" stroke="#48f000" stroke-width="1.6"/><line x1="675.6" y1="171.3" x2="671.8" y2="159.9" stroke="#48f000" stroke-width="1.6"/><line x1="680.0" y1="169.8" x2="676.2" y2="158.4" stroke="#48f000" stroke-width="1.6"/><rect x="696.5" y="161.7" width="3.6" height="4" fill="#48f000"/><line x1="698.2" y1="190.5" x2="665.9" y2="202.2" stroke="#eeff00" stroke-width="1.6"/><polygon points="665.9,202.2 670.2,200.6 662.7,193.3" fill="#eeff00" stroke="#eeff00" stroke-width="1"/><line x1="673.6" y1="199.4" x2="671.6" y2="193.8" stroke="#eeff00" stroke-width="1.6"/><rect x="696.5" y="188.5" width="3.6" height="4" fill="#eeff00"/><line x1="698.2" y1="216.7" x2="665.9" y2="228.5" stroke="#eeff00" stroke-width="1.6"/><polygon points="665.9,228.5 670.2,226.9 662.6,219.6" fill="#eeff00" stroke="#eeff00" stroke-width="1"/><line x1="673.6" y1="225.7" x2="671.5" y2="220.1" stroke="#eeff00" stroke-width="1.6"/><rect x="696.5" y="214.7" width="3.6" height="4" fill="#eeff00"/><line x1="698.2" y1="243.2" x2="666.1" y2="254.5" stroke="#eeff00" stroke-width="1.6"/><polygon points="666.1,254.5 670.4,253.0 662.9,245.5" fill="#eeff00" stroke="#eeff00" stroke-width="1"/><line x1="673.6" y1="251.8" x2="669.7" y2="240.5" stroke="#eeff00" stroke-width="1.6"/><rect x="696.5" y="241.2" width="3.6" height="4" fill="#eeff00"/><line x1="698.2" y1="270.1" x2="666.7" y2="283.8" stroke="#c0f000" stroke-width="1.6"/><polygon points="666.7,283.8 670.9,282.0 662.9,275.1" fill="#c0f000" stroke="#c0f000" stroke-width="1"/><line x1="674.2" y1="280.5" x2="671.8" y2="275.0" stroke="#c0f000" stroke-width="1.6"/><rect x="696.5" y="268.1" width="3.6" height="4" fill="#c0f000"/><line x1="698.2" y1="297.1" x2="666.7" y2="309.8" stroke="#c0f000" stroke-width="1.6"/><polygon points="666.7,309.8 671.0,308.1 663.1,301.0" fill="#c0f000" stroke="#c0f000" stroke-width="1"/><line x1="674.3" y1="306.7" x2="672.1" y2="301.2" stroke="#c0f000" stroke-width="1.6"/><rect x="696.5" y="295.1" width="3.6" height="4" fill="#c0f000"/><line x1="698.2" y1="323.7" x2="668.7" y2="340.6" stroke="#e8f800" stroke-width="1.6"/><polygon points="668.7,340.6 672.7,338.3 664.0,332.4" fill="#e8f800" stroke="#e8f800" stroke-width="1"/><line x1="675.8" y1="336.5" x2="672.8" y2="331.3" stroke="#e8f800" stroke-width="1.6"/><rect x="696.5" y="321.7" width="3.6" height="4" fill="#e8f800"/><line x1="698.2" y1="351.4" x2="669.3" y2="368.6" stroke="#b0f000" stroke-width="1.6"/><polygon points="669.3,368.6 673.3,366.2 664.4,360.4" fill="#b0f000" stroke="#b0f000" stroke-width="1"/><rect x="696.5" y="349.4" width="3.6" height="4" fill="#b0f000"/><line x1="698.2" y1="378.4" x2="669.3" y2="394.6" stroke="#b0f000" stroke-width="1.6"/><polygon points="669.3,394.6 673.3,392.4 664.7,386.3" fill="#b0f000" stroke="#b0f000" stroke-width="1"/><rect x="696.5" y="376.4" width="3.6" height="4" fill="#b0f000"/><line x1="698.2" y1="404.4" x2="668.2" y2="417.9" stroke="#5af000" stroke-width="1.6"/><line x1="668.2" y1="417.9" x2="663.3" y2="407.0" stroke="#5af000" stroke-width="1.6"/><line x1="672.4" y1="416.0" x2="667.5" y2="405.1" stroke="#5af000" stroke-width="1.6"/><line x1="676.6" y1="414.1" x2="671.7" y2="403.2" stroke="#5af000" stroke-width="1.6"/><line x1="680.8" y1="412.2" x2="675.9" y2="401.3" stroke="#5af000" stroke-width="1.6"/><line x1="685.0" y1="410.3" x2="682.5" y2="404.9" stroke="#5af000" stroke-width="1.6"/><rect x="696.5" y="402.4" width="3.6" height="4" fill="#5af000"/><line x1="698.2" y1="428.9" x2="667.7" y2="441.4" stroke="#10f050" stroke-width="1.6"/><line x1="667.7" y1="441.4" x2="663.1" y2="430.3" stroke="#10f050" stroke-width="1.6"/><line x1="672.0" y1="439.7" x2="667.4" y2="428.6" stroke="#10f050" stroke-width="1.6"/><line x1="676.2" y1="437.9" x2="671.7" y2="426.8" stroke="#10f050" stroke-width="1.6"/><line x1="680.5" y1="436.2" x2="678.2" y2="430.6" stroke="#10f050" stroke-width="1.6"/><rect x="696.5" y="426.9" width="3.6" height="4" fill="#10f050"/><line x1="698.2" y1="452.3" x2="669.3" y2="467.9" stroke="#00f080" stroke-width="1.6"/><line x1="669.3" y1="467.9" x2="663.6" y2="457.3" stroke="#00f080" stroke-width="1.6"/><line x1="673.3" y1="465.7" x2="667.6" y2="455.2" stroke="#00f080" stroke-width="1.6"/><line x1="677.4" y1="463.5" x2="671.7" y2="453.0" stroke="#00f080" stroke-width="1.6"/><rect x="696.5" y="450.3" width="3.6" height="4" fill="#00f080"/><line x1="698.2" y1="474.0" x2="670.8" y2="492.7" stroke="#00f080" stroke-width="1.6"/><line x1="670.8" y1="492.7" x2="664.0" y2="482.8" stroke="#00f080" stroke-width="1.6"/><line x1="674.6" y1="490.1" x2="667.8" y2="480.2" stroke="#00f080" stroke-width="1.6"/><line x1="678.4" y1="487.5" x2="671.6" y2="477.6" stroke="#00f080" stroke-width="1.6"/><line x1="682.2" y1="484.9" x2="678.8" y2="480.0" stroke="#00f080" stroke-width="1.6"/><rect x="696.5" y="472.0" width="3.6" height="4" fill="#00f080"/><line x1="698.2" y1="494.8" x2="674.0" y2="516.1" stroke="#00f080" stroke-width="1.6"/><line x1="674.0" y1="516.1" x2="666.1" y2="507.1" stroke="#00f080" stroke-width="1.6"/><line x1="677.5" y1="513.1" x2="669.5" y2="504.1" stroke="#00f080" stroke-width="1.6"/><line x1="680.9" y1="510.0" x2="673.0" y2="501.0" stroke="#00f080" stroke-width="1.6"/><rect x="696.5" y="492.8" width="3.6" height="4" fill="#00f080"/><line x1="698.2" y1="514.4" x2="677.6" y2="539.4" stroke="#10f0d0" stroke-width="1.6"/><line x1="677.6" y1="539.4" x2="668.3" y2="531.8" stroke="#10f0d0" stroke-width="1.6"/><line x1="680.5" y1="535.8" x2="671.3" y2="528.2" stroke="#10f0d0" stroke-width="1.6"/><line x1="683.5" y1="532.3" x2="678.8" y2="528.5" stroke="#10f0d0" stroke-width="1.6"/><rect x="696.5" y="512.4" width="3.6" height="4" fill="#10f0d0"/><line x1="698.2" y1="532.6" x2="678.6" y2="558.6" stroke="#10f0c8" stroke-width="1.6"/><line x1="678.6" y1="558.6" x2="669.0" y2="551.4" stroke="#10f0c8" stroke-width="1.6"/><line x1="681.4" y1="554.9" x2="671.8" y2="547.7" stroke="#10f0c8" stroke-width="1.6"/><rect x="696.5" y="530.6" width="3.6" height="4" fill="#10f0c8"/><line x1="698.2" y1="549.8" x2="677.1" y2="574.3" stroke="#10f0c0" stroke-width="1.6"/><line x1="677.1" y1="574.3" x2="668.0" y2="566.5" stroke="#10f0c0" stroke-width="1.6"/><line x1="680.1" y1="570.8" x2="671.0" y2="563.0" stroke="#10f0c0" stroke-width="1.6"/><rect x="696.5" y="547.8" width="3.6" height="4" fill="#10f0c0"/><line x1="698.2" y1="565.4" x2="677.4" y2="590.1" stroke="#00e8f8" stroke-width="1.6"/><line x1="677.4" y1="590.1" x2="668.2" y2="582.4" stroke="#00e8f8" stroke-width="1.6"/><line x1="680.4" y1="586.6" x2="671.2" y2="578.9" stroke="#00e8f8" stroke-width="1.6"/><rect x="696.5" y="563.4" width="3.6" height="4" fill="#00e8f8"/><line x1="698.2" y1="580.4" x2="677.4" y2="605.1" stroke="#00e8f8" stroke-width="1.6"/><line x1="677.4" y1="605.1" x2="668.2" y2="597.4" stroke="#00e8f8" stroke-width="1.6"/><line x1="680.4" y1="601.6" x2="671.2" y2="593.9" stroke="#00e8f8" stroke-width="1.6"/><rect x="696.5" y="578.4" width="3.6" height="4" fill="#00e8f8"/><line x1="698.2" y1="594.7" x2="681.5" y2="621.4" stroke="#00e8f8" stroke-width="1.6"/><line x1="681.5" y1="621.4" x2="671.3" y2="615.0" stroke="#00e8f8" stroke-width="1.6"/><line x1="683.9" y1="617.5" x2="678.9" y2="614.3" stroke="#00e8f8" stroke-width="1.6"/><rect x="696.5" y="592.7" width="3.6" height="4" fill="#00e8f8"/><line x1="698.2" y1="607.7" x2="684.8" y2="636.4" stroke="#00e0ff" stroke-width="1.6"/><line x1="684.8" y1="636.4" x2="673.9" y2="631.3" stroke="#00e0ff" stroke-width="1.6"/><line x1="686.7" y1="632.2" x2="681.3" y2="629.7" stroke="#00e0ff" stroke-width="1.6"/><rect x="696.5" y="605.7" width="3.6" height="4" fill="#00e0ff"/><line x1="698.2" y1="619.3" x2="681.0" y2="645.0" stroke="#10b8ff" stroke-width="1.6"/><line x1="681.0" y1="645.0" x2="671.0" y2="638.3" stroke="#10b8ff" stroke-width="1.6"/><line x1="683.6" y1="641.2" x2="678.6" y2="637.8" stroke="#10b8ff" stroke-width="1.6"/><rect x="696.5" y="617.3" width="3.6" height="4" fill="#10b8ff"/><line x1="698.2" y1="630.2" x2="677.0" y2="656.0" stroke="#10a8ff" stroke-width="1.6"/><line x1="677.0" y1="656.0" x2="667.7" y2="648.4" stroke="#10a8ff" stroke-width="1.6"/><rect x="696.5" y="628.2" width="3.6" height="4" fill="#10a8ff"/><line x1="698.2" y1="639.7" x2="683.2" y2="668.3" stroke="#1890ff" stroke-width="1.6"/><line x1="683.2" y1="668.3" x2="672.6" y2="662.7" stroke="#1890ff" stroke-width="1.6"/><rect x="696.5" y="637.7" width="3.6" height="4" fill="#1890ff"/><line x1="698.2" y1="648.5" x2="692.4" y2="675.5" stroke="#1a80ff" stroke-width="1.6"/><line x1="692.4" y1="675.5" x2="686.5" y2="674.2" stroke="#1a80ff" stroke-width="1.6"/><rect x="696.5" y="646.5" width="3.6" height="4" fill="#1a80ff"/><line x1="698.2" y1="655.9" x2="688.5" y2="682.0" stroke="#1a80ff" stroke-width="1.6"/><line x1="688.5" y1="682.0" x2="682.9" y2="679.9" stroke="#1a80ff" stroke-width="1.6"/><rect x="696.5" y="653.9" width="3.6" height="4" fill="#1a80ff"/><line x1="698.2" y1="663.0" x2="690.8" y2="695.0" stroke="#1a80ff" stroke-width="1.6"/><rect x="696.5" y="661.0" width="3.6" height="4" fill="#1a80ff"/><line x1="698.2" y1="668.4" x2="690.8" y2="699.7" stroke="#1a80ff" stroke-width="1.6"/><rect x="696.5" y="666.4" width="3.6" height="4" fill="#1a80ff"/><line x1="690.8" y1="695" x2="677.5" y2="689.9" stroke="#1a80ff" stroke-width="1.6"/><polygon points="696.3,679.8 699.8,677.8 725.2,699.8 727.1,705.2 727.6,728.6 719.3,740.8 718.3,727.6 696.3,714.4" fill="#12b8ff"/><polyline points="696.3,714.4 718.3,727.6 719.3,740.8" fill="none" stroke="#1a98ff" stroke-width="1.4"/><polyline points="699.8,677.8 725.2,699.8" fill="none" stroke="#1a88ff" stroke-width="1.6"/><line x1="699.8" y1="684.6" x2="722.2" y2="698.3" stroke="#40e0ff" stroke-width="1.3"/><line x1="701.7" y1="683.7" x2="709.5" y2="702.2" stroke="#1a88ff" stroke-width="1.3"/><line x1="721.3" y1="700.3" x2="715.4" y2="707.1" stroke="#1a88ff" stroke-width="1.3"/><line x1="724.2" y1="703.2" x2="717.3" y2="712" stroke="#40e0ff" stroke-width="1.3"/><line x1="702.5" y1="700" x2="706" y2="698" stroke="#1a88ff" stroke-width="1.3"/>
<defs><clipPath id="hc"><rect x="745.0" y="45.0" width="186.0" height="180.6"/></clipPath></defs><g clip-path="url(#hc)"><circle cx="837.65" cy="135.4" r="30.7" fill="none" stroke="#111" stroke-width="1.2"/><circle cx="837.65" cy="135.4" r="61.5" fill="none" stroke="#111" stroke-width="1.2"/><circle cx="837.65" cy="135.4" r="92.2" fill="none" stroke="#111" stroke-width="1.2"/><line x1="745.0" y1="135.4" x2="931.0" y2="135.4" stroke="#111" stroke-width="1.3"/><line x1="837.65" y1="45.0" x2="837.65" y2="225.6" stroke="#111" stroke-width="1.3"/><line x1="745.4" y1="132.9" x2="745.4" y2="137.9" stroke="#111" stroke-width="1.2"/><line x1="835.15" y1="43.2" x2="840.15" y2="43.2" stroke="#111" stroke-width="1.2"/><line x1="755.6" y1="132.9" x2="755.6" y2="137.9" stroke="#111" stroke-width="1.2"/><line x1="835.15" y1="53.4" x2="840.15" y2="53.4" stroke="#111" stroke-width="1.2"/><line x1="765.9" y1="132.9" x2="765.9" y2="137.9" stroke="#111" stroke-width="1.2"/><line x1="835.15" y1="63.7" x2="840.15" y2="63.7" stroke="#111" stroke-width="1.2"/><line x1="776.1" y1="132.9" x2="776.1" y2="137.9" stroke="#111" stroke-width="1.2"/><line x1="835.15" y1="73.9" x2="840.15" y2="73.9" stroke="#111" stroke-width="1.2"/><line x1="786.4" y1="132.9" x2="786.4" y2="137.9" stroke="#111" stroke-width="1.2"/><line x1="835.15" y1="84.2" x2="840.15" y2="84.2" stroke="#111" stroke-width="1.2"/><line x1="796.6" y1="132.9" x2="796.6" y2="137.9" stroke="#111" stroke-width="1.2"/><line x1="835.15" y1="94.4" x2="840.15" y2="94.4" stroke="#111" stroke-width="1.2"/><line x1="806.9" y1="132.9" x2="806.9" y2="137.9" stroke="#111" stroke-width="1.2"/><line x1="835.15" y1="104.7" x2="840.15" y2="104.7" stroke="#111" stroke-width="1.2"/><line x1="817.1" y1="132.9" x2="817.1" y2="137.9" stroke="#111" stroke-width="1.2"/><line x1="835.15" y1="114.9" x2="840.15" y2="114.9" stroke="#111" stroke-width="1.2"/><line x1="827.4" y1="132.9" x2="827.4" y2="137.9" stroke="#111" stroke-width="1.2"/><line x1="835.15" y1="125.2" x2="840.15" y2="125.2" stroke="#111" stroke-width="1.2"/><line x1="847.9" y1="132.9" x2="847.9" y2="137.9" stroke="#111" stroke-width="1.2"/><line x1="835.15" y1="145.7" x2="840.15" y2="145.7" stroke="#111" stroke-width="1.2"/><line x1="858.1" y1="132.9" x2="858.1" y2="137.9" stroke="#111" stroke-width="1.2"/><line x1="835.15" y1="155.9" x2="840.15" y2="155.9" stroke="#111" stroke-width="1.2"/><line x1="868.4" y1="132.9" x2="868.4" y2="137.9" stroke="#111" stroke-width="1.2"/><line x1="835.15" y1="166.2" x2="840.15" y2="166.2" stroke="#111" stroke-width="1.2"/><line x1="878.6" y1="132.9" x2="878.6" y2="137.9" stroke="#111" stroke-width="1.2"/><line x1="835.15" y1="176.4" x2="840.15" y2="176.4" stroke="#111" stroke-width="1.2"/><line x1="888.9" y1="132.9" x2="888.9" y2="137.9" stroke="#111" stroke-width="1.2"/><line x1="835.15" y1="186.7" x2="840.15" y2="186.7" stroke="#111" stroke-width="1.2"/><line x1="899.1" y1="132.9" x2="899.1" y2="137.9" stroke="#111" stroke-width="1.2"/><line x1="835.15" y1="196.9" x2="840.15" y2="196.9" stroke="#111" stroke-width="1.2"/><line x1="909.4" y1="132.9" x2="909.4" y2="137.9" stroke="#111" stroke-width="1.2"/><line x1="835.15" y1="207.2" x2="840.15" y2="207.2" stroke="#111" stroke-width="1.2"/><line x1="919.6" y1="132.9" x2="919.6" y2="137.9" stroke="#111" stroke-width="1.2"/><line x1="835.15" y1="217.4" x2="840.15" y2="217.4" stroke="#111" stroke-width="1.2"/><line x1="929.9" y1="132.9" x2="929.9" y2="137.9" stroke="#111" stroke-width="1.2"/><line x1="835.15" y1="227.6" x2="840.15" y2="227.6" stroke="#111" stroke-width="1.2"/></g><rect x="745.0" y="45.0" width="186.0" height="180.6" fill="none" stroke="#111" stroke-width="1.9"/><g transform="translate(815.9,157.1) rotate(-45)"><text transform="scale(1.15,1)" x="-9.18 0.84" y="5.2" font-size="15" fill="#111" stroke="#fff" stroke-width="0.26" >15</text></g><g transform="translate(794.2,178.9) rotate(-45)"><text transform="scale(1.15,1)" x="-9.18 0.84" y="5.2" font-size="15" fill="#111" stroke="#fff" stroke-width="0.26" >30</text></g><g transform="translate(772.4,200.6) rotate(-45)"><text transform="scale(1.15,1)" x="-9.18 0.84" y="5.2" font-size="15" fill="#111" stroke="#fff" stroke-width="0.26" >45</text></g><text transform="scale(1.15,1)" x="651.83 658.94 666.82 675.00 679.61" y="58.8" font-size="12.6" fill="#111" stroke="#fff" stroke-width="0.09" >knots</text><polyline points="821.9,127.0 817.4,124.3 814.1,121.1 812.0,117.1 818.4,121.6 823.8,123.8 830.8,124.9 838.3,124.9 839.4,126.5 842.1,120.5 842.6,122.2 846.9,120.0 851.2,119.5 852.8,114.1 851.7,108.7 850.9,105.3" fill="none" stroke="#00d400" stroke-width="3" stroke-linejoin="round" stroke-linecap="round"/><circle cx="851" cy="105.3" r="2.2" fill="#00d400"/><line x1="837.65" y1="135.4" x2="869" y2="129.20000000000002" stroke="#ff4040" stroke-width="1.5"/><polygon points="872.7,128.3 864.2,126.1 866.2,130.8 865.4,135.1" fill="#ff3838"/>
<rect x="768.2" y="271.1" width="157.79999999999995" height="401.5" fill="none" stroke="#444" stroke-width="1.3"/><line x1="768.2" y1="329.7" x2="926.0" y2="329.7" stroke="#222" stroke-width="1.3"/><line x1="768.2" y1="456.2" x2="926.0" y2="456.2" stroke="#222" stroke-width="1.3"/><line x1="768.2" y1="582.5" x2="926.0" y2="582.5" stroke="#222" stroke-width="1.3"/><text transform="scale(1.15,1)" x="671.55" y="289.6" font-size="13.6" fill="#111" stroke="#fff" stroke-width="0.13" >K</text><text transform="scale(1.15,1)" x="756.75 764.73" y="289.6" font-size="13.6" fill="#111" stroke="#fff" stroke-width="0.13" >11</text><text transform="scale(1.15,1)" x="670.32 677.98" y="307.5" font-size="13.6" fill="#111" stroke="#fff" stroke-width="0.13" >TT</text><text transform="scale(1.15,1)" x="756.95 765.49" y="307.5" font-size="13.6" fill="#111" stroke="#fff" stroke-width="0.13" >24</text><text transform="scale(1.15,1)" x="671.52 678.94 697.57 703.05 710.71 723.21" y="320.9" font-size="13.6" fill="#111" stroke="#fff" stroke-width="0.13" >PW(cm)</text><text transform="scale(1.15,1)" x="756.86 764.97 769.29 777.58" y="320.9" font-size="13.6" fill="#111" stroke="#fff" stroke-width="0.13" >2.43</text><text transform="scale(1.15,1)" x="690.70 698.26 705.75 715.28 723.01 730.61 741.91 745.10 752.62 759.38 767.11" y="347.8" font-size="13.6" fill="#111" stroke="#fff" stroke-width="0.13" >Lowestlevel</text><text transform="scale(1.15,1)" x="671.35 680.64 685.53 693.14 700.16 714.31 720.00 732.01 740.34" y="370.6" font-size="13.6" fill="#111" stroke="#fff" stroke-width="0.13" >Press(mb)</text><text transform="scale(1.15,1)" x="757.34 765.50 773.66 781.82 789.83 794.06" y="370.6" font-size="13.6" fill="#111" stroke="#fff" stroke-width="0.13" >1018.3</text><text transform="scale(1.15,1)" x="670.81 677.99 685.72 697.41 711.95 723.52 733.18" y="383.8" font-size="13.6" fill="#111" stroke="#fff" stroke-width="0.13" >Temp(C)</text><circle cx="828.7" cy="377.1" r="1.38" fill="none" stroke="#111" stroke-width="1.26"/><text transform="scale(1.15,1)" x="756.96 764.78 772.55 776.52" y="383.8" font-size="13.6" fill="#111" stroke="#fff" stroke-width="0.13" >25.1</text><text transform="scale(1.15,1)" x="671.05 679.99 686.87 696.20 710.74 722.31 731.96" y="397.4" font-size="13.6" fill="#111" stroke="#fff" stroke-width="0.13" >Dewp(C)</text><circle cx="827.3" cy="390.7" r="1.38" fill="none" stroke="#111" stroke-width="1.26"/><text transform="scale(1.15,1)" x="757.19 764.93 772.64 776.55" y="397.4" font-size="13.6" fill="#111" stroke="#fff" stroke-width="0.13" >18.1</text><text transform="scale(1.15,1)" x="671.05 677.99 688.53 700.23 709.95" y="424.0" font-size="13.6" fill="#111" stroke="#fff" stroke-width="0.13" >LI(C)</text><circle cx="801.8" cy="417.3" r="1.38" fill="none" stroke="#111" stroke-width="1.26"/><text transform="scale(1.15,1)" x="757.36 765.42 769.69" y="424.0" font-size="13.6" fill="#111" stroke="#fff" stroke-width="0.13" >1.4</text><text x="773.3" y="410.9" font-size="13.5" font-weight="bold" font-style="italic" fill="#111" font-family="Liberation Serif, serif">θ</text><text x="780.8" y="411.5" font-size="6.8" font-weight="bold" fill="#111">E</text><text transform="scale(1.15,1)" x="688.73 694.59 705.01" y="410.9" font-size="13.6" fill="#111" stroke="#fff" stroke-width="0.13" >(K)</text><text transform="scale(1.15,1)" x="757.10 765.34 773.58 781.66 785.94" y="410.9" font-size="13.6" fill="#111" stroke="#fff" stroke-width="0.13" >333.8</text><text transform="scale(1.15,1)" x="670.85 679.40 687.59 695.98 711.89 717.05 723.97 731.14" y="437.9" font-size="13.6" fill="#111" stroke="#fff" stroke-width="0.13" >CAPE(Jkg</text><text transform="scale(1.15,1)" x="741.90" y="432.9" font-size="8.5" fill="#111" stroke="#fff" stroke-width="0.09" >1</text><line x1="849.5" y1="430.0" x2="853.1" y2="430.0" stroke="#111" stroke-width="0.9"/><text x="859.6" y="438.2" font-size="13.6" fill="#111" stroke="#fff" stroke-width="0.15">)</text><text transform="scale(1.15,1)" x="757.10 765.34" y="437.9" font-size="13.6" fill="#111" stroke="#fff" stroke-width="0.13" >82</text><text transform="scale(1.15,1)" x="670.86 679.98 683.28 700.24 705.42 712.37 719.57" y="451.6" font-size="13.6" fill="#111" stroke="#fff" stroke-width="0.13" >CIN(Jkg</text><text transform="scale(1.15,1)" x="730.33" y="446.6" font-size="8.5" fill="#111" stroke="#fff" stroke-width="0.09" >1</text><line x1="836.2" y1="443.7" x2="839.8" y2="443.7" stroke="#111" stroke-width="0.9"/><text x="846.1" y="451.9" font-size="13.6" fill="#111" stroke="#fff" stroke-width="0.15">)</text><text transform="scale(1.15,1)" x="756.78 764.09" y="451.6" font-size="13.6" fill="#111" stroke="#fff" stroke-width="0.13" >51</text><text transform="scale(1.15,1)" x="687.00 697.75 705.55 713.04 723.62 733.20 741.00 748.49 752.99 760.82 768.66 771.74" y="474.5" font-size="13.6" fill="#111" stroke="#fff" stroke-width="0.13" >MostUnstable</text><text transform="scale(1.15,1)" x="671.35 680.64 685.53 693.14 700.16 714.31 720.00 732.01 740.34" y="497.9" font-size="13.6" fill="#111" stroke="#fff" stroke-width="0.13" >Press(mb)</text><text transform="scale(1.15,1)" x="757.34 765.50 773.66 781.82 789.83 794.06" y="497.9" font-size="13.6" fill="#111" stroke="#fff" stroke-width="0.13" >1018.3</text><text transform="scale(1.15,1)" x="670.81 677.99 685.72 697.41 711.95 723.52 733.18" y="511.1" font-size="13.6" fill="#111" stroke="#fff" stroke-width="0.13" >Temp(C)</text><circle cx="828.7" cy="504.4" r="1.38" fill="none" stroke="#111" stroke-width="1.26"/><text transform="scale(1.15,1)" x="756.96 764.78 772.55 776.52" y="511.1" font-size="13.6" fill="#111" stroke="#fff" stroke-width="0.13" >25.1</text><text transform="scale(1.15,1)" x="671.05 679.99 686.87 696.20 710.74 722.31 731.96" y="524.7" font-size="13.6" fill="#111" stroke="#fff" stroke-width="0.13" >Dewp(C)</text><circle cx="827.3" cy="518.0" r="1.38" fill="none" stroke="#111" stroke-width="1.26"/><text transform="scale(1.15,1)" x="757.19 764.93 772.64 776.55" y="524.7" font-size="13.6" fill="#111" stroke="#fff" stroke-width="0.13" >18.1</text><text transform="scale(1.15,1)" x="671.05 677.99 688.53 700.23 709.95" y="551.3" font-size="13.6" fill="#111" stroke="#fff" stroke-width="0.13" >LI(C)</text><circle cx="801.8" cy="544.6" r="1.38" fill="none" stroke="#111" stroke-width="1.26"/><text transform="scale(1.15,1)" x="757.36 765.42 769.69" y="551.3" font-size="13.6" fill="#111" stroke="#fff" stroke-width="0.13" >1.4</text><text x="773.3" y="538.2" font-size="13.5" font-weight="bold" font-style="italic" fill="#111" font-family="Liberation Serif, serif">θ</text><text x="780.8" y="538.8" font-size="6.8" font-weight="bold" fill="#111">E</text><text transform="scale(1.15,1)" x="688.73 694.59 705.01" y="538.2" font-size="13.6" fill="#111" stroke="#fff" stroke-width="0.13" >(K)</text><text transform="scale(1.15,1)" x="757.10 765.34 773.58 781.66 785.94" y="538.2" font-size="13.6" fill="#111" stroke="#fff" stroke-width="0.13" >333.8</text><text transform="scale(1.15,1)" x="670.85 679.40 687.59 695.98 711.89 717.05 723.97 731.14" y="565.2" font-size="13.6" fill="#111" stroke="#fff" stroke-width="0.13" >CAPE(Jkg</text><text transform="scale(1.15,1)" x="741.90" y="560.2" font-size="8.5" fill="#111" stroke="#fff" stroke-width="0.09" >1</text><line x1="849.5" y1="557.3" x2="853.1" y2="557.3" stroke="#111" stroke-width="0.9"/><text x="859.6" y="565.5" font-size="13.6" fill="#111" stroke="#fff" stroke-width="0.15">)</text><text transform="scale(1.15,1)" x="757.10 765.34" y="565.2" font-size="13.6" fill="#111" stroke="#fff" stroke-width="0.13" >81</text><text transform="scale(1.15,1)" x="670.86 679.98 683.28 700.24 705.42 712.37 719.57" y="578.9" font-size="13.6" fill="#111" stroke="#fff" stroke-width="0.13" >CIN(Jkg</text><text transform="scale(1.15,1)" x="730.33" y="573.9" font-size="8.5" fill="#111" stroke="#fff" stroke-width="0.09" >1</text><line x1="836.2" y1="571.0" x2="839.8" y2="571.0" stroke="#111" stroke-width="0.9"/><text x="846.1" y="579.2" font-size="13.6" fill="#111" stroke="#fff" stroke-width="0.15">)</text><text transform="scale(1.15,1)" x="756.78 764.09" y="578.9" font-size="13.6" fill="#111" stroke="#fff" stroke-width="0.13" >51</text><text transform="scale(1.15,1)" x="699.43 709.00 716.82 724.64 732.46 740.57 745.64 753.46 761.28" y="596.6" font-size="13.6" fill="#111" stroke="#fff" stroke-width="0.13" >Hodograph</text><text transform="scale(1.15,1)" x="670.71 679.20 696.56 701.91 709.05 716.45" y="614.5" font-size="13.6" fill="#111" stroke="#fff" stroke-width="0.13" >EH(Jkg</text><text transform="scale(1.15,1)" x="727.29" y="609.5" font-size="8.5" fill="#111" stroke="#fff" stroke-width="0.09" >1</text><line x1="832.7" y1="606.6" x2="836.3" y2="606.6" stroke="#111" stroke-width="0.9"/><text x="842.7" y="614.8" font-size="13.6" fill="#111" stroke="#fff" stroke-width="0.15">)</text><text transform="scale(1.15,1)" x="756.83 765.52" y="614.5" font-size="13.6" fill="#111" stroke="#fff" stroke-width="0.13" >18</text><text transform="scale(1.15,1)" x="670.88 679.22 688.11 696.45 713.56 718.81 725.83 733.11" y="627.8" font-size="13.6" fill="#111" stroke="#fff" stroke-width="0.13" >SREH(Jkg</text><text transform="scale(1.15,1)" x="743.90" y="622.8" font-size="8.5" fill="#111" stroke="#fff" stroke-width="0.09" >1</text><line x1="851.8" y1="619.9" x2="855.4" y2="619.9" stroke="#111" stroke-width="0.9"/><text x="861.8" y="628.1" font-size="13.6" fill="#111" stroke="#fff" stroke-width="0.15">)</text><text transform="scale(1.15,1)" x="756.83 765.52" y="627.8" font-size="13.6" fill="#111" stroke="#fff" stroke-width="0.13" >35</text><text transform="scale(1.15,1)" x="670.74 679.88 684.63 695.74 705.03 708.54 720.51 733.50" y="650.5" font-size="13.6" fill="#111" stroke="#fff" stroke-width="0.13" >StmDir()</text><circle cx="838.7" cy="643.8" r="1.38" fill="none" stroke="#111" stroke-width="1.26"/><text transform="scale(1.15,1)" x="756.78 765.35 773.92" y="650.5" font-size="13.6" fill="#111" stroke="#fff" stroke-width="0.13" >258</text><text transform="scale(1.15,1)" x="670.79 680.04 684.94 696.39 705.20 713.04 727.98 733.24 740.74 745.74" y="663.8" font-size="13.6" fill="#111" stroke="#fff" stroke-width="0.13" >StmSpd(kt)</text><text transform="scale(1.15,1)" x="756.76 765.25" y="663.8" font-size="13.6" fill="#111" stroke="#fff" stroke-width="0.13" >17</text><text transform="scale(1.15,1)" x="651.82 662.90 673.66 683.97 703.70 726.56 738.79 753.04 763.04 772.20 780.76 790.30 799.81" y="706.0" font-size="16.5" fill="#111" stroke="#fff" stroke-width="0.30" >NCEP1HrPType:</text><line x1="822.8" y1="700.3" x2="833.5" y2="700.3" stroke="#111" stroke-width="1.4"/><line x1="744.3" y1="711.3" x2="931" y2="711.3" stroke="#111" stroke-width="1.5"/><text transform="scale(1.15,1)" x="708.27 720.27 730.11 739.69" y="728.8" font-size="16.5" fill="#111" stroke="#fff" stroke-width="0.30" >None</text><text transform="scale(1.15,1)" x="700.82 706.31 715.30 727.42 735.09 738.33 747.21 751.83" y="750.0" font-size="14.5" fill="#111" stroke="#fff" stroke-width="0.26" >(0&quot;L.E.)</text></svg></body></html>
